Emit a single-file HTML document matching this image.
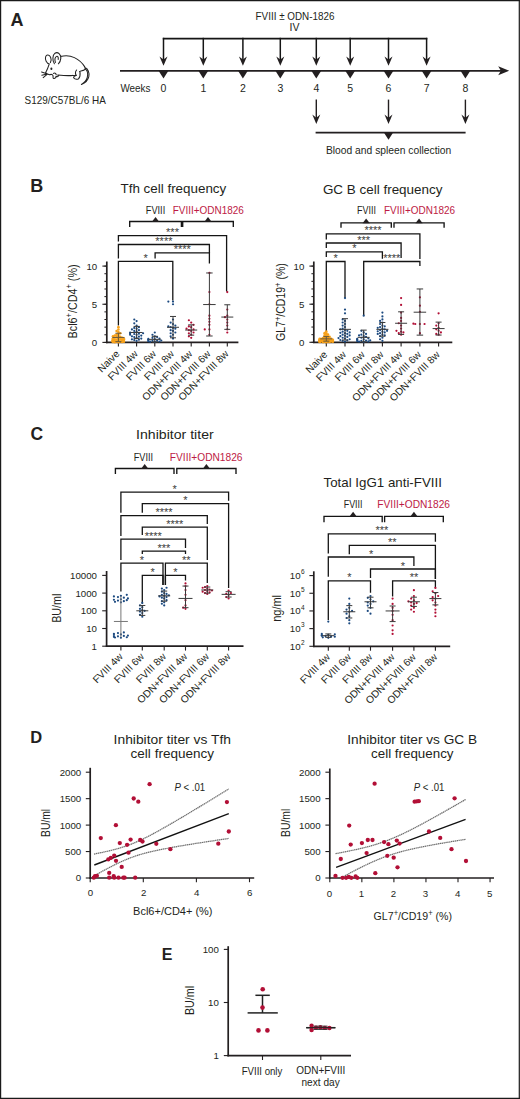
<!DOCTYPE html>
<html><head><meta charset="utf-8"><title>Figure</title>
<style>
html,body{margin:0;padding:0;background:#fff;}
body{width:520px;height:1099px;overflow:hidden;}
svg{display:block;font-family:"Liberation Sans", sans-serif;}
</style></head><body>
<svg width="520" height="1099" viewBox="0 0 520 1099">
<rect x="0" y="0" width="520" height="1099" fill="#fff"/>
<text x="10.5" y="25.7" font-size="18" text-anchor="start" fill="#231f20" font-weight="bold">A</text>
<path d="M49.4,64.0 C46.6,63.4 44.8,59.6 45.6,56.8 C46.4,54.2 49.4,54.6 50.6,57.2 C51.4,59.0 51.2,61.2 50.4,62.6 M54.4,63.8 C52.2,60.6 52.4,55.2 55.0,53.2 C57.8,51.4 61.2,54.4 60.8,58.4 C60.6,60.6 59.6,62.6 58.4,63.8 M55.4,62.4 C54.6,59.8 55.2,57.2 56.6,56.4 C57.8,55.8 58.6,57.6 58.2,59.4 M49.2,64.2 C48.4,66.8 47.0,70.2 45.6,72.8 C46.8,73.8 48.2,74.4 49.6,74.8 M60.6,56.4 C64.6,55.4 70.4,55.6 74.4,57.6 C78.6,59.6 82.2,62.8 84.6,66.6 M57.6,75.0 C61.8,75.4 67.6,76.0 72.6,75.4 M49.6,74.8 C51.0,74.0 52.6,74.4 53.0,75.6 C53.4,77.0 52.4,78.0 53.6,78.4 C55.0,78.8 56.2,77.6 56.0,76.2 C57.2,77.2 58.6,76.6 58.4,75.2 M53.4,73.4 C54.6,72.6 56.0,73.2 56.2,74.6 M76.6,70.0 C75.2,71.8 75.2,74.0 76.4,75.6 C75.0,75.8 73.6,76.6 73.6,77.8 C74.4,79.0 76.6,79.4 78.4,79.0 C79.8,77.4 80.4,74.6 80.0,72.0 M72.6,75.4 C73.6,75.6 74.6,75.6 75.4,75.4 M84.6,66.6 C85.4,68.0 85.4,69.4 84.2,70.0 C82.6,70.8 80.8,70.8 79.4,71.6 M84.8,67.6 C88.0,68.6 89.6,72.6 88.8,76.6 C88.0,80.2 85.2,83.0 81.4,84.4 M85.6,69.2 C87.6,71.0 88.0,74.6 87.2,77.6 C86.4,80.4 84.4,82.6 81.4,84.4 M46.0,73.4 L41.6,72.0 M46.2,74.2 L41.8,75.2 M46.8,74.6 L43.2,77.6" fill="none" stroke="#232323" stroke-width="1.05" stroke-linecap="round" stroke-linejoin="round"/>
<ellipse cx="51.4" cy="68.7" rx="1.0" ry="1.2" fill="#232323"/>
<ellipse cx="46.2" cy="73.6" rx="1.0" ry="0.8" fill="#232323"/>
<text x="24.6" y="104.2" font-size="10.2" text-anchor="start" fill="#231f20" font-weight="normal" textLength="81.2" lengthAdjust="spacingAndGlyphs">S129/C57BL/6 HA</text>
<text x="295" y="20" font-size="10.5" text-anchor="middle" fill="#231f20" font-weight="normal" textLength="78.8" lengthAdjust="spacingAndGlyphs">FVIII ± ODN-1826</text>
<text x="294.5" y="31.2" font-size="10.5" text-anchor="middle" fill="#231f20" font-weight="normal">IV</text>
<line x1="162.8" y1="38.6" x2="427.3" y2="38.6" stroke="#151515" stroke-width="1.7"/>
<line x1="163.5" y1="37.8" x2="163.5" y2="60" stroke="#151515" stroke-width="1.5"/>
<polygon points="159.5,56.4 163.5,59.6 167.5,56.4 163.5,65.8" fill="#231f20"/>
<line x1="203.3" y1="37.8" x2="203.3" y2="60" stroke="#151515" stroke-width="1.5"/>
<polygon points="199.3,56.4 203.3,59.6 207.3,56.4 203.3,65.8" fill="#231f20"/>
<line x1="242.9" y1="37.8" x2="242.9" y2="60" stroke="#151515" stroke-width="1.5"/>
<polygon points="238.9,56.4 242.9,59.6 246.9,56.4 242.9,65.8" fill="#231f20"/>
<line x1="280.3" y1="37.8" x2="280.3" y2="60" stroke="#151515" stroke-width="1.5"/>
<polygon points="276.3,56.4 280.3,59.6 284.3,56.4 280.3,65.8" fill="#231f20"/>
<line x1="316.3" y1="37.8" x2="316.3" y2="60" stroke="#151515" stroke-width="1.5"/>
<polygon points="312.3,56.4 316.3,59.6 320.3,56.4 316.3,65.8" fill="#231f20"/>
<line x1="350.2" y1="37.8" x2="350.2" y2="60" stroke="#151515" stroke-width="1.5"/>
<polygon points="346.2,56.4 350.2,59.6 354.2,56.4 350.2,65.8" fill="#231f20"/>
<line x1="388.5" y1="37.8" x2="388.5" y2="60" stroke="#151515" stroke-width="1.5"/>
<polygon points="384.5,56.4 388.5,59.6 392.5,56.4 388.5,65.8" fill="#231f20"/>
<line x1="426.6" y1="37.8" x2="426.6" y2="60" stroke="#151515" stroke-width="1.5"/>
<polygon points="422.6,56.4 426.6,59.6 430.6,56.4 426.6,65.8" fill="#231f20"/>
<line x1="120" y1="70.8" x2="503" y2="70.8" stroke="#231f20" stroke-width="1.8"/>
<polygon points="498.2,66.3 500.9,70.8 498.2,75.3 509.2,70.8" fill="#231f20"/>
<polygon points="158.6,70.8 168.4,70.8 163.5,78.5" fill="#231f20"/>
<polygon points="198.4,70.8 208.2,70.8 203.3,78.5" fill="#231f20"/>
<polygon points="238,70.8 247.8,70.8 242.9,78.5" fill="#231f20"/>
<polygon points="275.4,70.8 285.2,70.8 280.3,78.5" fill="#231f20"/>
<polygon points="311.4,70.8 321.2,70.8 316.3,78.5" fill="#231f20"/>
<polygon points="345.3,70.8 355.1,70.8 350.2,78.5" fill="#231f20"/>
<polygon points="383.6,70.8 393.4,70.8 388.5,78.5" fill="#231f20"/>
<polygon points="421.7,70.8 431.5,70.8 426.6,78.5" fill="#231f20"/>
<polygon points="460.5,70.8 470.3,70.8 465.4,78.5" fill="#231f20"/>
<text x="120.4" y="92" font-size="10.5" text-anchor="start" fill="#231f20" font-weight="normal" textLength="30" lengthAdjust="spacingAndGlyphs">Weeks</text>
<text x="163.5" y="92" font-size="10.5" text-anchor="middle" fill="#231f20" font-weight="normal">0</text>
<text x="203.3" y="92" font-size="10.5" text-anchor="middle" fill="#231f20" font-weight="normal">1</text>
<text x="242.9" y="92" font-size="10.5" text-anchor="middle" fill="#231f20" font-weight="normal">2</text>
<text x="280.3" y="92" font-size="10.5" text-anchor="middle" fill="#231f20" font-weight="normal">3</text>
<text x="316.3" y="92" font-size="10.5" text-anchor="middle" fill="#231f20" font-weight="normal">4</text>
<text x="350.2" y="92" font-size="10.5" text-anchor="middle" fill="#231f20" font-weight="normal">5</text>
<text x="388.5" y="92" font-size="10.5" text-anchor="middle" fill="#231f20" font-weight="normal">6</text>
<text x="426.6" y="92" font-size="10.5" text-anchor="middle" fill="#231f20" font-weight="normal">7</text>
<text x="465.4" y="92" font-size="10.5" text-anchor="middle" fill="#231f20" font-weight="normal">8</text>
<line x1="316.3" y1="99.6" x2="316.3" y2="118" stroke="#231f20" stroke-width="1.4"/>
<polygon points="312.3,114.6 316.3,117.8 320.3,114.6 316.3,124" fill="#231f20"/>
<line x1="388.5" y1="99.6" x2="388.5" y2="118" stroke="#231f20" stroke-width="1.4"/>
<polygon points="384.5,114.6 388.5,117.8 392.5,114.6 388.5,124" fill="#231f20"/>
<line x1="465.4" y1="99.6" x2="465.4" y2="118" stroke="#231f20" stroke-width="1.4"/>
<polygon points="461.4,114.6 465.4,117.8 469.4,114.6 465.4,124" fill="#231f20"/>
<line x1="315.6" y1="132.6" x2="465.6" y2="132.6" stroke="#231f20" stroke-width="1.6"/>
<polygon points="384,132.7 393,132.7 388.5,139.7" fill="#231f20"/>
<text x="388.6" y="154" font-size="10.5" text-anchor="middle" fill="#231f20" font-weight="normal" textLength="125.3" lengthAdjust="spacingAndGlyphs">Blood and spleen collection</text>
<text x="30.2" y="192.2" font-size="18" text-anchor="start" fill="#231f20" font-weight="bold">B</text>
<text x="173.4" y="192.5" font-size="12.9" text-anchor="middle" fill="#231f20" font-weight="normal" textLength="105.8" lengthAdjust="spacingAndGlyphs">Tfh cell frequency</text>
<text x="145.8" y="214.3" font-size="10.3" text-anchor="start" fill="#231f20" font-weight="normal" textLength="19.4" lengthAdjust="spacingAndGlyphs">FVIII</text>
<text x="172.7" y="214.3" font-size="10.3" text-anchor="start" fill="#bd1a45" font-weight="normal" textLength="71.1" lengthAdjust="spacingAndGlyphs">FVIII+ODN1826</text>
<polyline points="129.7,227 129.7,221.5 181.4,221.5 181.4,227" stroke="#141414" stroke-width="1.35" fill="none"/>
<polyline points="182.7,227 182.7,221.5 233.3,221.5 233.3,227" stroke="#141414" stroke-width="1.35" fill="none"/>
<polygon points="151.95,221.8 159.15,221.8 155.55,217" fill="#231f20"/>
<polygon points="204.4,221.8 211.6,221.8 208,217" fill="#231f20"/>
<polyline points="118.4,241.4 118.4,235.6 226.6,235.6 226.6,291.5" stroke="#141414" stroke-width="1.3" fill="none"/>
<text x="172.5" y="236.16" font-size="11" text-anchor="middle" fill="#3a3a3a" font-weight="normal">***</text>
<polyline points="118.4,258.4 118.4,244.5 209.4,244.5 209.4,252.9" stroke="#141414" stroke-width="1.3" fill="none"/>
<text x="163.9" y="245.06" font-size="11" text-anchor="middle" fill="#3a3a3a" font-weight="normal">****</text>
<polyline points="155.1,258.6 155.1,252.9 209.4,252.9 209.4,263.5" stroke="#141414" stroke-width="1.3" fill="none"/>
<text x="182.25" y="253.46" font-size="11" text-anchor="middle" fill="#3a3a3a" font-weight="normal">****</text>
<polyline points="118.4,325.6 118.4,261.3 172.8,261.3 172.8,300.4" stroke="#141414" stroke-width="1.3" fill="none"/>
<text x="145.6" y="261.86" font-size="11" text-anchor="middle" fill="#3a3a3a" font-weight="normal">*</text>
<line x1="106.8" y1="261.5" x2="106.8" y2="343.2" stroke="#231f20" stroke-width="1.7"/>
<line x1="106" y1="342.4" x2="238.4" y2="342.4" stroke="#231f20" stroke-width="1.7"/>
<line x1="104.4" y1="342.4" x2="106.8" y2="342.4" stroke="#231f20" stroke-width="1"/>
<line x1="104.4" y1="334.77" x2="106.8" y2="334.77" stroke="#231f20" stroke-width="1"/>
<line x1="104.4" y1="327.14" x2="106.8" y2="327.14" stroke="#231f20" stroke-width="1"/>
<line x1="104.4" y1="319.51" x2="106.8" y2="319.51" stroke="#231f20" stroke-width="1"/>
<line x1="104.4" y1="311.88" x2="106.8" y2="311.88" stroke="#231f20" stroke-width="1"/>
<line x1="104.4" y1="304.25" x2="106.8" y2="304.25" stroke="#231f20" stroke-width="1"/>
<line x1="104.4" y1="296.62" x2="106.8" y2="296.62" stroke="#231f20" stroke-width="1"/>
<line x1="104.4" y1="288.99" x2="106.8" y2="288.99" stroke="#231f20" stroke-width="1"/>
<line x1="104.4" y1="281.36" x2="106.8" y2="281.36" stroke="#231f20" stroke-width="1"/>
<line x1="104.4" y1="273.73" x2="106.8" y2="273.73" stroke="#231f20" stroke-width="1"/>
<line x1="104.4" y1="266.1" x2="106.8" y2="266.1" stroke="#231f20" stroke-width="1"/>
<line x1="102.4" y1="342.4" x2="106.8" y2="342.4" stroke="#231f20" stroke-width="1.1"/>
<text x="97.2" y="345.8" font-size="9.7" text-anchor="end" fill="#231f20" font-weight="normal">0</text>
<line x1="102.4" y1="304.25" x2="106.8" y2="304.25" stroke="#231f20" stroke-width="1.1"/>
<text x="97.2" y="307.65" font-size="9.7" text-anchor="end" fill="#231f20" font-weight="normal">5</text>
<line x1="102.4" y1="266.1" x2="106.8" y2="266.1" stroke="#231f20" stroke-width="1.1"/>
<text x="97.2" y="269.5" font-size="9.7" text-anchor="end" fill="#231f20" font-weight="normal">10</text>
<line x1="118.4" y1="342.4" x2="118.4" y2="346.6" stroke="#231f20" stroke-width="1.1"/>
<line x1="136.6" y1="342.4" x2="136.6" y2="346.6" stroke="#231f20" stroke-width="1.1"/>
<line x1="154.8" y1="342.4" x2="154.8" y2="346.6" stroke="#231f20" stroke-width="1.1"/>
<line x1="173" y1="342.4" x2="173" y2="346.6" stroke="#231f20" stroke-width="1.1"/>
<line x1="191.2" y1="342.4" x2="191.2" y2="346.6" stroke="#231f20" stroke-width="1.1"/>
<line x1="209.4" y1="342.4" x2="209.4" y2="346.6" stroke="#231f20" stroke-width="1.1"/>
<line x1="227.3" y1="342.4" x2="227.3" y2="346.6" stroke="#231f20" stroke-width="1.1"/>
<text transform="translate(76.9,301.4) rotate(-90)" font-size="12" text-anchor="middle" fill="#231f20" textLength="74" lengthAdjust="spacingAndGlyphs">Bcl6<tspan dy="-4.6" font-size="8.5">+</tspan><tspan dy="4.6">/CD4</tspan><tspan dy="-4.6" font-size="8.5">+</tspan><tspan dy="4.6"> (%)</tspan></text>
<text transform="translate(120.2,354.6) rotate(-45)" font-size="10.2" text-anchor="end" fill="#231f20">Naive</text>
<text transform="translate(138.4,354.6) rotate(-45)" font-size="10.2" text-anchor="end" fill="#231f20">FVIII 4w</text>
<text transform="translate(156.6,354.6) rotate(-45)" font-size="10.2" text-anchor="end" fill="#231f20">FVIII 6w</text>
<text transform="translate(174.8,354.6) rotate(-45)" font-size="10.2" text-anchor="end" fill="#231f20">FVIII 8w</text>
<text transform="translate(193,354.6) rotate(-45)" font-size="10.2" text-anchor="end" fill="#231f20">ODN+FVIII 4w</text>
<text transform="translate(211.2,354.6) rotate(-45)" font-size="10.2" text-anchor="end" fill="#231f20">ODN+FVIII 6w</text>
<text transform="translate(229.1,354.6) rotate(-45)" font-size="10.2" text-anchor="end" fill="#231f20">ODN+FVIII 8w</text>
<circle cx="118.4" cy="342.25" r="1.3" fill="#f7a11a"/>
<circle cx="114.79" cy="342.17" r="1.3" fill="#f7a11a"/>
<circle cx="122.01" cy="342.02" r="1.3" fill="#f7a11a"/>
<circle cx="112.9" cy="341.94" r="1.3" fill="#f7a11a"/>
<circle cx="123.9" cy="341.79" r="1.3" fill="#f7a11a"/>
<circle cx="116.59" cy="341.64" r="1.3" fill="#f7a11a"/>
<circle cx="112.9" cy="341.64" r="1.3" fill="#f7a11a"/>
<circle cx="120.21" cy="341.48" r="1.3" fill="#f7a11a"/>
<circle cx="112.9" cy="341.33" r="1.3" fill="#f7a11a"/>
<circle cx="112.9" cy="341.26" r="1.3" fill="#f7a11a"/>
<circle cx="123.9" cy="341.03" r="1.3" fill="#f7a11a"/>
<circle cx="112.9" cy="340.87" r="1.3" fill="#f7a11a"/>
<circle cx="112.9" cy="340.72" r="1.3" fill="#f7a11a"/>
<circle cx="112.9" cy="340.49" r="1.3" fill="#f7a11a"/>
<circle cx="118.4" cy="340.26" r="1.3" fill="#f7a11a"/>
<circle cx="114.79" cy="340.11" r="1.3" fill="#f7a11a"/>
<circle cx="122.01" cy="340.11" r="1.3" fill="#f7a11a"/>
<circle cx="112.9" cy="339.73" r="1.3" fill="#f7a11a"/>
<circle cx="116.59" cy="339.5" r="1.3" fill="#f7a11a"/>
<circle cx="120.21" cy="339.35" r="1.3" fill="#f7a11a"/>
<circle cx="123.9" cy="339.35" r="1.3" fill="#f7a11a"/>
<circle cx="112.9" cy="338.97" r="1.3" fill="#f7a11a"/>
<circle cx="123.9" cy="338.58" r="1.3" fill="#f7a11a"/>
<circle cx="112.9" cy="338.58" r="1.3" fill="#f7a11a"/>
<circle cx="118.4" cy="338.2" r="1.3" fill="#f7a11a"/>
<circle cx="114.79" cy="337.82" r="1.3" fill="#f7a11a"/>
<circle cx="122.01" cy="337.82" r="1.3" fill="#f7a11a"/>
<circle cx="116.59" cy="337.06" r="1.3" fill="#f7a11a"/>
<circle cx="120.21" cy="336.68" r="1.3" fill="#f7a11a"/>
<circle cx="112.99" cy="336.3" r="1.3" fill="#f7a11a"/>
<circle cx="118.4" cy="335.91" r="1.3" fill="#f7a11a"/>
<circle cx="114.79" cy="335.53" r="1.3" fill="#f7a11a"/>
<circle cx="116.59" cy="334.77" r="1.3" fill="#f7a11a"/>
<circle cx="118.4" cy="334.01" r="1.3" fill="#f7a11a"/>
<circle cx="120.21" cy="333.24" r="1.3" fill="#f7a11a"/>
<circle cx="118.4" cy="332.1" r="1.3" fill="#f7a11a"/>
<circle cx="116.59" cy="330.95" r="1.3" fill="#f7a11a"/>
<circle cx="118.4" cy="329.43" r="1.3" fill="#f7a11a"/>
<circle cx="118.4" cy="327.14" r="1.3" fill="#f7a11a"/>
<line x1="118.4" y1="333.24" x2="118.4" y2="341.64" stroke="#6a5a3a" stroke-width="1"/>
<line x1="115.4" y1="333.24" x2="121.4" y2="333.24" stroke="#6a5a3a" stroke-width="1"/>
<line x1="115.4" y1="341.64" x2="121.4" y2="341.64" stroke="#6a5a3a" stroke-width="1"/>
<line x1="112.4" y1="337.44" x2="124.4" y2="337.44" stroke="#6a5a3a" stroke-width="1"/>
<circle cx="136.6" cy="340.87" r="1.1" fill="#1c4a80"/>
<circle cx="134.27" cy="340.11" r="1.1" fill="#1c4a80"/>
<circle cx="138.93" cy="339.73" r="1.1" fill="#1c4a80"/>
<circle cx="131.94" cy="339.35" r="1.1" fill="#1c4a80"/>
<circle cx="141.25" cy="338.58" r="1.1" fill="#1c4a80"/>
<circle cx="136.6" cy="337.82" r="1.1" fill="#1c4a80"/>
<circle cx="134.27" cy="337.06" r="1.1" fill="#1c4a80"/>
<circle cx="138.93" cy="336.68" r="1.1" fill="#1c4a80"/>
<circle cx="131.94" cy="336.3" r="1.1" fill="#1c4a80"/>
<circle cx="141.25" cy="335.53" r="1.1" fill="#1c4a80"/>
<circle cx="136.6" cy="334.77" r="1.1" fill="#1c4a80"/>
<circle cx="130.1" cy="334.77" r="1.1" fill="#1c4a80"/>
<circle cx="134.27" cy="334.01" r="1.1" fill="#1c4a80"/>
<circle cx="138.93" cy="333.63" r="1.1" fill="#1c4a80"/>
<circle cx="143.1" cy="333.24" r="1.1" fill="#1c4a80"/>
<circle cx="130.1" cy="333.24" r="1.1" fill="#1c4a80"/>
<circle cx="130.1" cy="332.48" r="1.1" fill="#1c4a80"/>
<circle cx="136.6" cy="331.72" r="1.1" fill="#1c4a80"/>
<circle cx="134.27" cy="330.95" r="1.1" fill="#1c4a80"/>
<circle cx="138.93" cy="330.19" r="1.1" fill="#1c4a80"/>
<circle cx="131.94" cy="329.43" r="1.1" fill="#1c4a80"/>
<circle cx="136.6" cy="328.67" r="1.1" fill="#1c4a80"/>
<circle cx="134.27" cy="327.9" r="1.1" fill="#1c4a80"/>
<circle cx="138.93" cy="327.14" r="1.1" fill="#1c4a80"/>
<circle cx="136.6" cy="325.61" r="1.1" fill="#1c4a80"/>
<circle cx="134.27" cy="323.32" r="1.1" fill="#1c4a80"/>
<circle cx="136.6" cy="321.04" r="1.1" fill="#1c4a80"/>
<circle cx="134.27" cy="319.51" r="1.1" fill="#1c4a80"/>
<line x1="136.6" y1="326.38" x2="136.6" y2="338.58" stroke="#3a3a3a" stroke-width="1"/>
<line x1="133.6" y1="326.38" x2="139.6" y2="326.38" stroke="#3a3a3a" stroke-width="1"/>
<line x1="133.6" y1="338.58" x2="139.6" y2="338.58" stroke="#3a3a3a" stroke-width="1"/>
<line x1="130.6" y1="332.48" x2="142.6" y2="332.48" stroke="#3a3a3a" stroke-width="1"/>
<circle cx="154.8" cy="342.02" r="1.1" fill="#1c4a80"/>
<circle cx="150.15" cy="341.64" r="1.1" fill="#1c4a80"/>
<circle cx="159.46" cy="341.48" r="1.1" fill="#1c4a80"/>
<circle cx="148.3" cy="341.26" r="1.1" fill="#1c4a80"/>
<circle cx="152.47" cy="340.87" r="1.1" fill="#1c4a80"/>
<circle cx="157.13" cy="340.72" r="1.1" fill="#1c4a80"/>
<circle cx="161.3" cy="340.49" r="1.1" fill="#1c4a80"/>
<circle cx="148.3" cy="340.11" r="1.1" fill="#1c4a80"/>
<circle cx="148.3" cy="339.73" r="1.1" fill="#1c4a80"/>
<circle cx="154.8" cy="339.35" r="1.1" fill="#1c4a80"/>
<circle cx="148.3" cy="338.97" r="1.1" fill="#1c4a80"/>
<circle cx="159.46" cy="338.58" r="1.1" fill="#1c4a80"/>
<circle cx="152.47" cy="337.82" r="1.1" fill="#1c4a80"/>
<circle cx="157.13" cy="337.06" r="1.1" fill="#1c4a80"/>
<circle cx="154.8" cy="336.3" r="1.1" fill="#1c4a80"/>
<circle cx="152.47" cy="334.77" r="1.1" fill="#1c4a80"/>
<circle cx="154.8" cy="332.48" r="1.1" fill="#1c4a80"/>
<line x1="154.8" y1="336.3" x2="154.8" y2="342.02" stroke="#3a3a3a" stroke-width="1"/>
<line x1="151.8" y1="336.3" x2="157.8" y2="336.3" stroke="#3a3a3a" stroke-width="1"/>
<line x1="151.8" y1="342.02" x2="157.8" y2="342.02" stroke="#3a3a3a" stroke-width="1"/>
<line x1="148.8" y1="339.35" x2="160.8" y2="339.35" stroke="#3a3a3a" stroke-width="1"/>
<circle cx="173" cy="338.58" r="1.1" fill="#1c4a80"/>
<circle cx="170.67" cy="336.3" r="1.1" fill="#1c4a80"/>
<circle cx="173" cy="334.77" r="1.1" fill="#1c4a80"/>
<circle cx="170.67" cy="333.24" r="1.1" fill="#1c4a80"/>
<circle cx="175.33" cy="332.48" r="1.1" fill="#1c4a80"/>
<circle cx="173" cy="330.95" r="1.1" fill="#1c4a80"/>
<circle cx="170.67" cy="330.19" r="1.1" fill="#1c4a80"/>
<circle cx="175.33" cy="328.67" r="1.1" fill="#1c4a80"/>
<circle cx="173" cy="327.9" r="1.1" fill="#1c4a80"/>
<circle cx="170.67" cy="327.14" r="1.1" fill="#1c4a80"/>
<circle cx="168.34" cy="326.38" r="1.1" fill="#1c4a80"/>
<circle cx="175.33" cy="325.61" r="1.1" fill="#1c4a80"/>
<circle cx="173" cy="324.09" r="1.1" fill="#1c4a80"/>
<circle cx="170.67" cy="322.56" r="1.1" fill="#1c4a80"/>
<circle cx="173" cy="319.51" r="1.1" fill="#1c4a80"/>
<circle cx="173" cy="304.25" r="1.1" fill="#1c4a80"/>
<circle cx="173" cy="301.58" r="1.1" fill="#1c4a80"/>
<circle cx="168.34" cy="301.58" r="1.1" fill="#1c4a80"/>
<line x1="173" y1="316.46" x2="173" y2="337.82" stroke="#3a3a3a" stroke-width="1"/>
<line x1="170" y1="316.46" x2="176" y2="316.46" stroke="#3a3a3a" stroke-width="1"/>
<line x1="170" y1="337.82" x2="176" y2="337.82" stroke="#3a3a3a" stroke-width="1"/>
<line x1="167" y1="327.29" x2="179" y2="327.29" stroke="#3a3a3a" stroke-width="1"/>
<circle cx="191.2" cy="337.82" r="1.1" fill="#b20f36"/>
<circle cx="188.87" cy="336.3" r="1.1" fill="#b20f36"/>
<circle cx="191.2" cy="334.77" r="1.1" fill="#b20f36"/>
<circle cx="188.87" cy="333.24" r="1.1" fill="#b20f36"/>
<circle cx="193.53" cy="332.48" r="1.1" fill="#b20f36"/>
<circle cx="191.2" cy="330.95" r="1.1" fill="#b20f36"/>
<circle cx="188.87" cy="330.19" r="1.1" fill="#b20f36"/>
<circle cx="193.53" cy="329.43" r="1.1" fill="#b20f36"/>
<circle cx="186.54" cy="328.67" r="1.1" fill="#b20f36"/>
<circle cx="191.2" cy="327.14" r="1.1" fill="#b20f36"/>
<circle cx="188.87" cy="326.38" r="1.1" fill="#b20f36"/>
<circle cx="193.53" cy="324.85" r="1.1" fill="#b20f36"/>
<circle cx="191.2" cy="322.56" r="1.1" fill="#b20f36"/>
<circle cx="188.87" cy="320.27" r="1.1" fill="#b20f36"/>
<line x1="191.2" y1="324.85" x2="191.2" y2="335.15" stroke="#3a3a3a" stroke-width="1"/>
<line x1="188.2" y1="324.85" x2="194.2" y2="324.85" stroke="#3a3a3a" stroke-width="1"/>
<line x1="188.2" y1="335.15" x2="194.2" y2="335.15" stroke="#3a3a3a" stroke-width="1"/>
<line x1="185.2" y1="330.04" x2="197.2" y2="330.04" stroke="#3a3a3a" stroke-width="1"/>
<circle cx="209.4" cy="334.77" r="1.1" fill="#b20f36"/>
<circle cx="209.4" cy="329.43" r="1.1" fill="#b20f36"/>
<circle cx="204.75" cy="329.43" r="1.1" fill="#b20f36"/>
<circle cx="209.4" cy="324.85" r="1.1" fill="#b20f36"/>
<circle cx="209.4" cy="321.8" r="1.1" fill="#b20f36"/>
<circle cx="209.4" cy="318.75" r="1.1" fill="#b20f36"/>
<circle cx="209.4" cy="315.69" r="1.1" fill="#b20f36"/>
<circle cx="209.4" cy="304.25" r="1.1" fill="#b20f36"/>
<circle cx="209.4" cy="292.04" r="1.1" fill="#b20f36"/>
<circle cx="209.4" cy="272.97" r="1.1" fill="#b20f36"/>
<line x1="209.4" y1="272.97" x2="209.4" y2="335.99" stroke="#3a3a3a" stroke-width="1"/>
<line x1="206.15" y1="272.97" x2="212.65" y2="272.97" stroke="#3a3a3a" stroke-width="1"/>
<line x1="206.15" y1="335.99" x2="212.65" y2="335.99" stroke="#3a3a3a" stroke-width="1"/>
<line x1="203.15" y1="304.56" x2="215.65" y2="304.56" stroke="#3a3a3a" stroke-width="1"/>
<circle cx="227.3" cy="332.48" r="1.1" fill="#b20f36"/>
<circle cx="227.3" cy="329.43" r="1.1" fill="#b20f36"/>
<circle cx="227.3" cy="325.61" r="1.1" fill="#b20f36"/>
<circle cx="227.3" cy="322.56" r="1.1" fill="#b20f36"/>
<circle cx="227.3" cy="319.51" r="1.1" fill="#b20f36"/>
<circle cx="224.97" cy="317.22" r="1.1" fill="#b20f36"/>
<circle cx="227.3" cy="315.69" r="1.1" fill="#b20f36"/>
<circle cx="227.3" cy="309.59" r="1.1" fill="#b20f36"/>
<circle cx="227.3" cy="292.04" r="1.1" fill="#b20f36"/>
<line x1="227.3" y1="304.78" x2="227.3" y2="329.35" stroke="#3a3a3a" stroke-width="1"/>
<line x1="224.3" y1="304.78" x2="230.3" y2="304.78" stroke="#3a3a3a" stroke-width="1"/>
<line x1="224.3" y1="329.35" x2="230.3" y2="329.35" stroke="#3a3a3a" stroke-width="1"/>
<line x1="221.3" y1="317.07" x2="233.3" y2="317.07" stroke="#3a3a3a" stroke-width="1"/>
<text x="382.7" y="193.8" font-size="12.9" text-anchor="middle" fill="#231f20" font-weight="normal" textLength="119.6" lengthAdjust="spacingAndGlyphs">GC B cell frequency</text>
<text x="357.1" y="214" font-size="10.3" text-anchor="start" fill="#231f20" font-weight="normal" textLength="18.9" lengthAdjust="spacingAndGlyphs">FVIII</text>
<text x="384" y="214" font-size="10.3" text-anchor="start" fill="#bd1a45" font-weight="normal" textLength="71.1" lengthAdjust="spacingAndGlyphs">FVIII+ODN1826</text>
<polyline points="341,227.7 341,222.9 391.3,222.9 391.3,227.7" stroke="#141414" stroke-width="1.35" fill="none"/>
<polyline points="394,227.7 394,222.9 444.1,222.9 444.1,227.7" stroke="#141414" stroke-width="1.35" fill="none"/>
<polygon points="362.55,223.2 369.75,223.2 366.15,218.4" fill="#231f20"/>
<polygon points="415.45,223.2 422.65,223.2 419.05,218.4" fill="#231f20"/>
<polyline points="326.3,239.6 326.3,233.8 419.9,233.8 419.9,259" stroke="#141414" stroke-width="1.3" fill="none"/>
<text x="373.1" y="234.36" font-size="11" text-anchor="middle" fill="#3a3a3a" font-weight="normal">****</text>
<polyline points="326.3,248 326.3,243 401.1,243 401.1,258" stroke="#141414" stroke-width="1.3" fill="none"/>
<text x="363.7" y="243.56" font-size="11" text-anchor="middle" fill="#3a3a3a" font-weight="normal">***</text>
<polyline points="326.3,257 326.3,251.8 382.4,251.8 382.4,258.8" stroke="#141414" stroke-width="1.3" fill="none"/>
<text x="354.35" y="252.36" font-size="11" text-anchor="middle" fill="#3a3a3a" font-weight="normal">*</text>
<polyline points="326.3,331 326.3,261.5 345,261.5 345,298" stroke="#141414" stroke-width="1.3" fill="none"/>
<text x="335.65" y="262.06" font-size="11" text-anchor="middle" fill="#3a3a3a" font-weight="normal">*</text>
<polyline points="363.7,315.5 363.7,261.5 419.9,261.5 419.9,266" stroke="#141414" stroke-width="1.3" fill="none"/>
<text x="391.8" y="262.06" font-size="11" text-anchor="middle" fill="#3a3a3a" font-weight="normal">****</text>
<line x1="313.8" y1="261.5" x2="313.8" y2="343.1" stroke="#231f20" stroke-width="1.7"/>
<line x1="313" y1="342.3" x2="452.3" y2="342.3" stroke="#231f20" stroke-width="1.7"/>
<line x1="311.4" y1="342.3" x2="313.8" y2="342.3" stroke="#231f20" stroke-width="1"/>
<line x1="311.4" y1="334.68" x2="313.8" y2="334.68" stroke="#231f20" stroke-width="1"/>
<line x1="311.4" y1="327.06" x2="313.8" y2="327.06" stroke="#231f20" stroke-width="1"/>
<line x1="311.4" y1="319.44" x2="313.8" y2="319.44" stroke="#231f20" stroke-width="1"/>
<line x1="311.4" y1="311.82" x2="313.8" y2="311.82" stroke="#231f20" stroke-width="1"/>
<line x1="311.4" y1="304.2" x2="313.8" y2="304.2" stroke="#231f20" stroke-width="1"/>
<line x1="311.4" y1="296.58" x2="313.8" y2="296.58" stroke="#231f20" stroke-width="1"/>
<line x1="311.4" y1="288.96" x2="313.8" y2="288.96" stroke="#231f20" stroke-width="1"/>
<line x1="311.4" y1="281.34" x2="313.8" y2="281.34" stroke="#231f20" stroke-width="1"/>
<line x1="311.4" y1="273.72" x2="313.8" y2="273.72" stroke="#231f20" stroke-width="1"/>
<line x1="311.4" y1="266.1" x2="313.8" y2="266.1" stroke="#231f20" stroke-width="1"/>
<line x1="309.4" y1="342.3" x2="313.8" y2="342.3" stroke="#231f20" stroke-width="1.1"/>
<text x="304.4" y="345.7" font-size="9.7" text-anchor="end" fill="#231f20" font-weight="normal">0</text>
<line x1="309.4" y1="304.2" x2="313.8" y2="304.2" stroke="#231f20" stroke-width="1.1"/>
<text x="304.4" y="307.6" font-size="9.7" text-anchor="end" fill="#231f20" font-weight="normal">5</text>
<line x1="309.4" y1="266.1" x2="313.8" y2="266.1" stroke="#231f20" stroke-width="1.1"/>
<text x="304.4" y="269.5" font-size="9.7" text-anchor="end" fill="#231f20" font-weight="normal">10</text>
<line x1="326.3" y1="342.3" x2="326.3" y2="346.5" stroke="#231f20" stroke-width="1.1"/>
<line x1="345" y1="342.3" x2="345" y2="346.5" stroke="#231f20" stroke-width="1.1"/>
<line x1="363.7" y1="342.3" x2="363.7" y2="346.5" stroke="#231f20" stroke-width="1.1"/>
<line x1="382.4" y1="342.3" x2="382.4" y2="346.5" stroke="#231f20" stroke-width="1.1"/>
<line x1="401.1" y1="342.3" x2="401.1" y2="346.5" stroke="#231f20" stroke-width="1.1"/>
<line x1="419.9" y1="342.3" x2="419.9" y2="346.5" stroke="#231f20" stroke-width="1.1"/>
<line x1="438.6" y1="342.3" x2="438.6" y2="346.5" stroke="#231f20" stroke-width="1.1"/>
<text transform="translate(285.4,302.1) rotate(-90)" font-size="12" text-anchor="middle" fill="#231f20" textLength="77.8" lengthAdjust="spacingAndGlyphs">GL7<tspan dy="-4.6" font-size="8.5">+</tspan><tspan dy="4.6">/CD19</tspan><tspan dy="-4.6" font-size="8.5">+</tspan><tspan dy="4.6"> (%)</tspan></text>
<text transform="translate(328.1,355.3) rotate(-45)" font-size="10.2" text-anchor="end" fill="#231f20">Naive</text>
<text transform="translate(346.8,355.3) rotate(-45)" font-size="10.2" text-anchor="end" fill="#231f20">FVIII 4w</text>
<text transform="translate(365.5,355.3) rotate(-45)" font-size="10.2" text-anchor="end" fill="#231f20">FVIII 6w</text>
<text transform="translate(384.2,355.3) rotate(-45)" font-size="10.2" text-anchor="end" fill="#231f20">FVIII 8w</text>
<text transform="translate(402.9,355.3) rotate(-45)" font-size="10.2" text-anchor="end" fill="#231f20">ODN+FVIII 4w</text>
<text transform="translate(421.7,355.3) rotate(-45)" font-size="10.2" text-anchor="end" fill="#231f20">ODN+FVIII 6w</text>
<text transform="translate(440.4,355.3) rotate(-45)" font-size="10.2" text-anchor="end" fill="#231f20">ODN+FVIII 8w</text>
<circle cx="326.3" cy="342.15" r="1.4" fill="#f7a11a"/>
<circle cx="323.07" cy="342" r="1.4" fill="#f7a11a"/>
<circle cx="329.53" cy="341.92" r="1.4" fill="#f7a11a"/>
<circle cx="319.84" cy="341.84" r="1.4" fill="#f7a11a"/>
<circle cx="332.76" cy="341.69" r="1.4" fill="#f7a11a"/>
<circle cx="319.8" cy="341.69" r="1.4" fill="#f7a11a"/>
<circle cx="324.69" cy="341.54" r="1.4" fill="#f7a11a"/>
<circle cx="319.8" cy="341.54" r="1.4" fill="#f7a11a"/>
<circle cx="327.92" cy="341.39" r="1.4" fill="#f7a11a"/>
<circle cx="319.8" cy="341.39" r="1.4" fill="#f7a11a"/>
<circle cx="321.45" cy="341.16" r="1.4" fill="#f7a11a"/>
<circle cx="331.15" cy="341.16" r="1.4" fill="#f7a11a"/>
<circle cx="332.8" cy="340.93" r="1.4" fill="#f7a11a"/>
<circle cx="319.8" cy="340.78" r="1.4" fill="#f7a11a"/>
<circle cx="319.8" cy="340.78" r="1.4" fill="#f7a11a"/>
<circle cx="319.8" cy="340.62" r="1.4" fill="#f7a11a"/>
<circle cx="326.3" cy="340.4" r="1.4" fill="#f7a11a"/>
<circle cx="319.8" cy="340.4" r="1.4" fill="#f7a11a"/>
<circle cx="323.07" cy="340.17" r="1.4" fill="#f7a11a"/>
<circle cx="329.53" cy="340.01" r="1.4" fill="#f7a11a"/>
<circle cx="332.8" cy="340.01" r="1.4" fill="#f7a11a"/>
<circle cx="319.8" cy="339.86" r="1.4" fill="#f7a11a"/>
<circle cx="324.69" cy="339.63" r="1.4" fill="#f7a11a"/>
<circle cx="319.8" cy="339.63" r="1.4" fill="#f7a11a"/>
<circle cx="327.92" cy="339.4" r="1.4" fill="#f7a11a"/>
<circle cx="321.45" cy="339.25" r="1.4" fill="#f7a11a"/>
<circle cx="331.15" cy="338.87" r="1.4" fill="#f7a11a"/>
<circle cx="319.8" cy="338.87" r="1.4" fill="#f7a11a"/>
<circle cx="326.3" cy="338.49" r="1.4" fill="#f7a11a"/>
<circle cx="323.07" cy="338.11" r="1.4" fill="#f7a11a"/>
<circle cx="327.92" cy="337.73" r="1.4" fill="#f7a11a"/>
<circle cx="324.69" cy="337.35" r="1.4" fill="#f7a11a"/>
<circle cx="329.53" cy="336.97" r="1.4" fill="#f7a11a"/>
<circle cx="326.3" cy="336.2" r="1.4" fill="#f7a11a"/>
<circle cx="324.69" cy="335.44" r="1.4" fill="#f7a11a"/>
<circle cx="327.92" cy="334.68" r="1.4" fill="#f7a11a"/>
<circle cx="326.3" cy="333.92" r="1.4" fill="#f7a11a"/>
<circle cx="324.69" cy="333.16" r="1.4" fill="#f7a11a"/>
<circle cx="326.3" cy="331.63" r="1.4" fill="#f7a11a"/>
<line x1="326.3" y1="336.59" x2="326.3" y2="341.16" stroke="#6a5a3a" stroke-width="1"/>
<line x1="323.3" y1="336.59" x2="329.3" y2="336.59" stroke="#6a5a3a" stroke-width="1"/>
<line x1="323.3" y1="341.16" x2="329.3" y2="341.16" stroke="#6a5a3a" stroke-width="1"/>
<line x1="320.3" y1="338.87" x2="332.3" y2="338.87" stroke="#6a5a3a" stroke-width="1"/>
<circle cx="345" cy="341.54" r="1.1" fill="#1c4a80"/>
<circle cx="342.67" cy="340.78" r="1.1" fill="#1c4a80"/>
<circle cx="347.33" cy="340.4" r="1.1" fill="#1c4a80"/>
<circle cx="340.35" cy="340.01" r="1.1" fill="#1c4a80"/>
<circle cx="349.65" cy="339.25" r="1.1" fill="#1c4a80"/>
<circle cx="345" cy="338.49" r="1.1" fill="#1c4a80"/>
<circle cx="338.5" cy="338.11" r="1.1" fill="#1c4a80"/>
<circle cx="342.67" cy="337.73" r="1.1" fill="#1c4a80"/>
<circle cx="347.33" cy="336.97" r="1.1" fill="#1c4a80"/>
<circle cx="340.35" cy="336.2" r="1.1" fill="#1c4a80"/>
<circle cx="345" cy="335.82" r="1.1" fill="#1c4a80"/>
<circle cx="349.65" cy="335.44" r="1.1" fill="#1c4a80"/>
<circle cx="342.67" cy="334.68" r="1.1" fill="#1c4a80"/>
<circle cx="347.33" cy="333.92" r="1.1" fill="#1c4a80"/>
<circle cx="345" cy="333.16" r="1.1" fill="#1c4a80"/>
<circle cx="340.35" cy="332.78" r="1.1" fill="#1c4a80"/>
<circle cx="349.65" cy="332.39" r="1.1" fill="#1c4a80"/>
<circle cx="342.67" cy="331.63" r="1.1" fill="#1c4a80"/>
<circle cx="347.33" cy="330.87" r="1.1" fill="#1c4a80"/>
<circle cx="345" cy="330.11" r="1.1" fill="#1c4a80"/>
<circle cx="340.35" cy="329.35" r="1.1" fill="#1c4a80"/>
<circle cx="342.67" cy="328.58" r="1.1" fill="#1c4a80"/>
<circle cx="345" cy="327.06" r="1.1" fill="#1c4a80"/>
<circle cx="342.67" cy="325.54" r="1.1" fill="#1c4a80"/>
<circle cx="345" cy="324.01" r="1.1" fill="#1c4a80"/>
<circle cx="342.67" cy="322.49" r="1.1" fill="#1c4a80"/>
<circle cx="345" cy="320.96" r="1.1" fill="#1c4a80"/>
<circle cx="342.67" cy="319.44" r="1.1" fill="#1c4a80"/>
<circle cx="345" cy="313.34" r="1.1" fill="#1c4a80"/>
<circle cx="345" cy="309.53" r="1.1" fill="#1c4a80"/>
<circle cx="345" cy="298.1" r="1.1" fill="#1c4a80"/>
<line x1="345" y1="318.68" x2="345" y2="340.01" stroke="#3a3a3a" stroke-width="1"/>
<line x1="342" y1="318.68" x2="348" y2="318.68" stroke="#3a3a3a" stroke-width="1"/>
<line x1="342" y1="340.01" x2="348" y2="340.01" stroke="#3a3a3a" stroke-width="1"/>
<line x1="339" y1="329.35" x2="351" y2="329.35" stroke="#3a3a3a" stroke-width="1"/>
<circle cx="363.7" cy="341.92" r="1.1" fill="#1c4a80"/>
<circle cx="359.05" cy="341.54" r="1.1" fill="#1c4a80"/>
<circle cx="368.35" cy="341.39" r="1.1" fill="#1c4a80"/>
<circle cx="357.2" cy="341.16" r="1.1" fill="#1c4a80"/>
<circle cx="361.37" cy="340.78" r="1.1" fill="#1c4a80"/>
<circle cx="366.03" cy="340.62" r="1.1" fill="#1c4a80"/>
<circle cx="370.2" cy="340.4" r="1.1" fill="#1c4a80"/>
<circle cx="357.2" cy="340.01" r="1.1" fill="#1c4a80"/>
<circle cx="357.2" cy="339.63" r="1.1" fill="#1c4a80"/>
<circle cx="363.7" cy="339.25" r="1.1" fill="#1c4a80"/>
<circle cx="357.2" cy="338.87" r="1.1" fill="#1c4a80"/>
<circle cx="368.35" cy="338.49" r="1.1" fill="#1c4a80"/>
<circle cx="361.37" cy="337.73" r="1.1" fill="#1c4a80"/>
<circle cx="366.03" cy="336.97" r="1.1" fill="#1c4a80"/>
<circle cx="363.7" cy="336.2" r="1.1" fill="#1c4a80"/>
<circle cx="359.05" cy="335.44" r="1.1" fill="#1c4a80"/>
<circle cx="361.37" cy="334.68" r="1.1" fill="#1c4a80"/>
<circle cx="366.03" cy="333.92" r="1.1" fill="#1c4a80"/>
<circle cx="363.7" cy="332.39" r="1.1" fill="#1c4a80"/>
<circle cx="361.37" cy="330.87" r="1.1" fill="#1c4a80"/>
<circle cx="363.7" cy="315.63" r="1.1" fill="#1c4a80"/>
<line x1="363.7" y1="330.11" x2="363.7" y2="341.92" stroke="#3a3a3a" stroke-width="1"/>
<line x1="360.7" y1="330.11" x2="366.7" y2="330.11" stroke="#3a3a3a" stroke-width="1"/>
<line x1="360.7" y1="341.92" x2="366.7" y2="341.92" stroke="#3a3a3a" stroke-width="1"/>
<line x1="357.7" y1="337.35" x2="369.7" y2="337.35" stroke="#3a3a3a" stroke-width="1"/>
<circle cx="382.4" cy="340.78" r="1.1" fill="#1c4a80"/>
<circle cx="380.07" cy="339.25" r="1.1" fill="#1c4a80"/>
<circle cx="382.4" cy="337.73" r="1.1" fill="#1c4a80"/>
<circle cx="380.07" cy="336.2" r="1.1" fill="#1c4a80"/>
<circle cx="384.73" cy="335.44" r="1.1" fill="#1c4a80"/>
<circle cx="382.4" cy="334.68" r="1.1" fill="#1c4a80"/>
<circle cx="377.75" cy="333.92" r="1.1" fill="#1c4a80"/>
<circle cx="380.07" cy="333.16" r="1.1" fill="#1c4a80"/>
<circle cx="384.73" cy="332.39" r="1.1" fill="#1c4a80"/>
<circle cx="382.4" cy="331.63" r="1.1" fill="#1c4a80"/>
<circle cx="377.75" cy="331.25" r="1.1" fill="#1c4a80"/>
<circle cx="387.05" cy="330.87" r="1.1" fill="#1c4a80"/>
<circle cx="380.07" cy="330.11" r="1.1" fill="#1c4a80"/>
<circle cx="384.73" cy="329.35" r="1.1" fill="#1c4a80"/>
<circle cx="382.4" cy="328.58" r="1.1" fill="#1c4a80"/>
<circle cx="377.75" cy="327.82" r="1.1" fill="#1c4a80"/>
<circle cx="380.07" cy="327.06" r="1.1" fill="#1c4a80"/>
<circle cx="384.73" cy="326.3" r="1.1" fill="#1c4a80"/>
<circle cx="382.4" cy="325.54" r="1.1" fill="#1c4a80"/>
<circle cx="380.07" cy="324.01" r="1.1" fill="#1c4a80"/>
<circle cx="382.4" cy="322.49" r="1.1" fill="#1c4a80"/>
<circle cx="380.07" cy="320.96" r="1.1" fill="#1c4a80"/>
<circle cx="382.4" cy="319.44" r="1.1" fill="#1c4a80"/>
<circle cx="382.4" cy="316.39" r="1.1" fill="#1c4a80"/>
<circle cx="382.4" cy="312.58" r="1.1" fill="#1c4a80"/>
<line x1="382.4" y1="322.49" x2="382.4" y2="336.2" stroke="#3a3a3a" stroke-width="1"/>
<line x1="379.4" y1="322.49" x2="385.4" y2="322.49" stroke="#3a3a3a" stroke-width="1"/>
<line x1="379.4" y1="336.2" x2="385.4" y2="336.2" stroke="#3a3a3a" stroke-width="1"/>
<line x1="376.4" y1="329.35" x2="388.4" y2="329.35" stroke="#3a3a3a" stroke-width="1"/>
<circle cx="401.1" cy="334.68" r="1.1" fill="#b20f36"/>
<circle cx="398.77" cy="333.16" r="1.1" fill="#b20f36"/>
<circle cx="403.43" cy="332.39" r="1.1" fill="#b20f36"/>
<circle cx="401.1" cy="331.63" r="1.1" fill="#b20f36"/>
<circle cx="396.45" cy="330.87" r="1.1" fill="#b20f36"/>
<circle cx="401.1" cy="328.58" r="1.1" fill="#b20f36"/>
<circle cx="401.1" cy="325.54" r="1.1" fill="#b20f36"/>
<circle cx="398.77" cy="323.25" r="1.1" fill="#b20f36"/>
<circle cx="401.1" cy="320.96" r="1.1" fill="#b20f36"/>
<circle cx="401.1" cy="317.92" r="1.1" fill="#b20f36"/>
<circle cx="401.1" cy="312.58" r="1.1" fill="#b20f36"/>
<circle cx="401.1" cy="304.96" r="1.1" fill="#b20f36"/>
<circle cx="401.1" cy="298.1" r="1.1" fill="#b20f36"/>
<line x1="401.1" y1="311.82" x2="401.1" y2="334.45" stroke="#3a3a3a" stroke-width="1"/>
<line x1="398.1" y1="311.82" x2="404.1" y2="311.82" stroke="#3a3a3a" stroke-width="1"/>
<line x1="398.1" y1="334.45" x2="404.1" y2="334.45" stroke="#3a3a3a" stroke-width="1"/>
<line x1="395.1" y1="323.25" x2="407.1" y2="323.25" stroke="#3a3a3a" stroke-width="1"/>
<circle cx="419.9" cy="333.16" r="1.1" fill="#b20f36"/>
<circle cx="419.9" cy="324.01" r="1.1" fill="#b20f36"/>
<circle cx="415.25" cy="324.01" r="1.1" fill="#b20f36"/>
<circle cx="424.55" cy="324.01" r="1.1" fill="#b20f36"/>
<circle cx="413.4" cy="323.63" r="1.1" fill="#b20f36"/>
<circle cx="419.9" cy="311.82" r="1.1" fill="#b20f36"/>
<circle cx="419.9" cy="305.72" r="1.1" fill="#b20f36"/>
<circle cx="419.9" cy="297.34" r="1.1" fill="#b20f36"/>
<line x1="419.9" y1="288.96" x2="419.9" y2="335.14" stroke="#3a3a3a" stroke-width="1"/>
<line x1="416.65" y1="288.96" x2="423.15" y2="288.96" stroke="#3a3a3a" stroke-width="1"/>
<line x1="416.65" y1="335.14" x2="423.15" y2="335.14" stroke="#3a3a3a" stroke-width="1"/>
<line x1="413.65" y1="312.2" x2="426.15" y2="312.2" stroke="#3a3a3a" stroke-width="1"/>
<circle cx="438.6" cy="334.68" r="1.1" fill="#b20f36"/>
<circle cx="436.27" cy="333.92" r="1.1" fill="#b20f36"/>
<circle cx="440.93" cy="332.39" r="1.1" fill="#b20f36"/>
<circle cx="438.6" cy="330.87" r="1.1" fill="#b20f36"/>
<circle cx="436.27" cy="329.35" r="1.1" fill="#b20f36"/>
<circle cx="438.6" cy="327.82" r="1.1" fill="#b20f36"/>
<circle cx="436.27" cy="325.54" r="1.1" fill="#b20f36"/>
<circle cx="438.6" cy="323.25" r="1.1" fill="#b20f36"/>
<circle cx="438.6" cy="313.34" r="1.1" fill="#b20f36"/>
<line x1="438.6" y1="322.11" x2="438.6" y2="335.06" stroke="#3a3a3a" stroke-width="1"/>
<line x1="435.6" y1="322.11" x2="441.6" y2="322.11" stroke="#3a3a3a" stroke-width="1"/>
<line x1="435.6" y1="335.06" x2="441.6" y2="335.06" stroke="#3a3a3a" stroke-width="1"/>
<line x1="432.6" y1="328.58" x2="444.6" y2="328.58" stroke="#3a3a3a" stroke-width="1"/>
<text x="30.6" y="439.6" font-size="17.5" text-anchor="start" fill="#231f20" font-weight="bold">C</text>
<text x="174.9" y="439.4" font-size="12.9" text-anchor="middle" fill="#231f20" font-weight="normal" textLength="77.6" lengthAdjust="spacingAndGlyphs">Inhibitor titer</text>
<text x="133.7" y="461" font-size="10.3" text-anchor="start" fill="#231f20" font-weight="normal" textLength="19.4" lengthAdjust="spacingAndGlyphs">FVIII</text>
<text x="169.8" y="461" font-size="10.3" text-anchor="start" fill="#bd1a45" font-weight="normal" textLength="72.7" lengthAdjust="spacingAndGlyphs">FVIII+ODN1826</text>
<polyline points="115.4,473.9 115.4,468.5 174,468.5 174,473.9" stroke="#141414" stroke-width="1.35" fill="none"/>
<polyline points="176.8,473.9 176.8,468.5 236,468.5 236,473.9" stroke="#141414" stroke-width="1.35" fill="none"/>
<polygon points="141.1,468.8 148.3,468.8 144.7,464" fill="#231f20"/>
<polygon points="202.8,468.8 210,468.8 206.4,464" fill="#231f20"/>
<polyline points="120.9,512.8 120.9,492.1 228.6,492.1 228.6,500.7" stroke="#141414" stroke-width="1.3" fill="none"/>
<text x="174.75" y="492.66" font-size="11" text-anchor="middle" fill="#3a3a3a" font-weight="normal">*</text>
<polyline points="142.3,512.8 142.3,503.6 228.6,503.6 228.6,588" stroke="#141414" stroke-width="1.3" fill="none"/>
<text x="185.45" y="504.16" font-size="11" text-anchor="middle" fill="#3a3a3a" font-weight="normal">*</text>
<polyline points="120.9,536 120.9,515.6 207.3,515.6 207.3,524" stroke="#141414" stroke-width="1.3" fill="none"/>
<text x="164.1" y="516.16" font-size="11" text-anchor="middle" fill="#3a3a3a" font-weight="normal">****</text>
<polyline points="142.3,535 142.3,527.2 207.3,527.2 207.3,560.1" stroke="#141414" stroke-width="1.3" fill="none"/>
<text x="174.8" y="527.76" font-size="11" text-anchor="middle" fill="#3a3a3a" font-weight="normal">****</text>
<polyline points="120.9,560.1 120.9,539.2 185.5,539.2 185.5,548.1" stroke="#141414" stroke-width="1.3" fill="none"/>
<text x="153.2" y="539.76" font-size="11" text-anchor="middle" fill="#3a3a3a" font-weight="normal">****</text>
<polyline points="142.3,554.1 142.3,551.2 185.5,551.2 185.5,554.1" stroke="#141414" stroke-width="1.3" fill="none"/>
<text x="163.9" y="551.76" font-size="11" text-anchor="middle" fill="#3a3a3a" font-weight="normal">***</text>
<polyline points="120.9,591.4 120.9,563.2 163,563.2 163,585" stroke="#141414" stroke-width="1.3" fill="none"/>
<text x="141.95" y="563.76" font-size="11" text-anchor="middle" fill="#3a3a3a" font-weight="normal">*</text>
<polyline points="165.4,585 165.4,563.2 207.3,563.2 207.3,583" stroke="#141414" stroke-width="1.3" fill="none"/>
<text x="186.35" y="563.76" font-size="11" text-anchor="middle" fill="#3a3a3a" font-weight="normal">**</text>
<polyline points="142.3,603.4 142.3,575.3 163,575.3 163,585" stroke="#141414" stroke-width="1.3" fill="none"/>
<text x="152.65" y="575.86" font-size="11" text-anchor="middle" fill="#3a3a3a" font-weight="normal">*</text>
<polyline points="165.4,585 165.4,575.3 185.5,575.3 185.5,580.6" stroke="#141414" stroke-width="1.3" fill="none"/>
<text x="175.45" y="575.86" font-size="11" text-anchor="middle" fill="#3a3a3a" font-weight="normal">*</text>
<line x1="106.6" y1="571" x2="106.6" y2="647" stroke="#231f20" stroke-width="1.7"/>
<line x1="105.8" y1="646.2" x2="243.5" y2="646.2" stroke="#231f20" stroke-width="1.7"/>
<line x1="102.2" y1="646.2" x2="106.6" y2="646.2" stroke="#231f20" stroke-width="1.1"/>
<text x="97" y="649.6" font-size="9.7" text-anchor="end" fill="#231f20" font-weight="normal">1</text>
<line x1="102.2" y1="628.5" x2="106.6" y2="628.5" stroke="#231f20" stroke-width="1.1"/>
<text x="97" y="631.9" font-size="9.7" text-anchor="end" fill="#231f20" font-weight="normal">10</text>
<line x1="102.2" y1="610.8" x2="106.6" y2="610.8" stroke="#231f20" stroke-width="1.1"/>
<text x="97" y="614.2" font-size="9.7" text-anchor="end" fill="#231f20" font-weight="normal">100</text>
<line x1="102.2" y1="593.1" x2="106.6" y2="593.1" stroke="#231f20" stroke-width="1.1"/>
<text x="97" y="596.5" font-size="9.7" text-anchor="end" fill="#231f20" font-weight="normal">1000</text>
<line x1="102.2" y1="575.4" x2="106.6" y2="575.4" stroke="#231f20" stroke-width="1.1"/>
<text x="97" y="578.8" font-size="9.7" text-anchor="end" fill="#231f20" font-weight="normal">10000</text>
<line x1="120.9" y1="646.2" x2="120.9" y2="650.6" stroke="#231f20" stroke-width="1.1"/>
<line x1="142.3" y1="646.2" x2="142.3" y2="650.6" stroke="#231f20" stroke-width="1.1"/>
<line x1="164.2" y1="646.2" x2="164.2" y2="650.6" stroke="#231f20" stroke-width="1.1"/>
<line x1="185.5" y1="646.2" x2="185.5" y2="650.6" stroke="#231f20" stroke-width="1.1"/>
<line x1="207.3" y1="646.2" x2="207.3" y2="650.6" stroke="#231f20" stroke-width="1.1"/>
<line x1="228.6" y1="646.2" x2="228.6" y2="650.6" stroke="#231f20" stroke-width="1.1"/>
<text transform="translate(61,608.2) rotate(-90)" font-size="12.8" text-anchor="middle" fill="#231f20" textLength="29.3" lengthAdjust="spacingAndGlyphs">BU/ml</text>
<text transform="translate(123.4,657.4) rotate(-45)" font-size="10.2" text-anchor="end" fill="#231f20">FVIII 4w</text>
<text transform="translate(144.8,657.4) rotate(-45)" font-size="10.2" text-anchor="end" fill="#231f20">FVIII 6w</text>
<text transform="translate(166.7,657.4) rotate(-45)" font-size="10.2" text-anchor="end" fill="#231f20">FVIII 8w</text>
<text transform="translate(188,657.4) rotate(-45)" font-size="10.2" text-anchor="end" fill="#231f20">ODN+FVIII 4w</text>
<text transform="translate(209.8,657.4) rotate(-45)" font-size="10.2" text-anchor="end" fill="#231f20">ODN+FVIII 6w</text>
<text transform="translate(231.1,657.4) rotate(-45)" font-size="10.2" text-anchor="end" fill="#231f20">ODN+FVIII 8w</text>
<circle cx="120.9" cy="637.75" r="1.1" fill="#1c4a80"/>
<circle cx="115.01" cy="637.5" r="1.1" fill="#1c4a80"/>
<circle cx="126.79" cy="637.26" r="1.1" fill="#1c4a80"/>
<circle cx="113.9" cy="636.79" r="1.1" fill="#1c4a80"/>
<circle cx="117.96" cy="636.35" r="1.1" fill="#1c4a80"/>
<circle cx="123.84" cy="635.94" r="1.1" fill="#1c4a80"/>
<circle cx="127.9" cy="635.54" r="1.1" fill="#1c4a80"/>
<circle cx="113.9" cy="634.99" r="1.1" fill="#1c4a80"/>
<circle cx="120.9" cy="634.47" r="1.1" fill="#1c4a80"/>
<circle cx="113.9" cy="633.83" r="1.1" fill="#1c4a80"/>
<circle cx="117.96" cy="633.1" r="1.1" fill="#1c4a80"/>
<circle cx="123.84" cy="632.43" r="1.1" fill="#1c4a80"/>
<circle cx="120.9" cy="602.35" r="1.1" fill="#1c4a80"/>
<circle cx="115.01" cy="601.86" r="1.1" fill="#1c4a80"/>
<circle cx="123.84" cy="601.17" r="1.1" fill="#1c4a80"/>
<circle cx="117.96" cy="600.54" r="1.1" fill="#1c4a80"/>
<circle cx="126.79" cy="600.14" r="1.1" fill="#1c4a80"/>
<circle cx="113.9" cy="599.77" r="1.1" fill="#1c4a80"/>
<circle cx="120.9" cy="599.24" r="1.1" fill="#1c4a80"/>
<circle cx="127.9" cy="598.43" r="1.1" fill="#1c4a80"/>
<circle cx="123.84" cy="597.7" r="1.1" fill="#1c4a80"/>
<circle cx="117.96" cy="597.03" r="1.1" fill="#1c4a80"/>
<circle cx="113.9" cy="596.41" r="1.1" fill="#1c4a80"/>
<circle cx="120.9" cy="595.84" r="1.1" fill="#1c4a80"/>
<circle cx="126.79" cy="594.82" r="1.1" fill="#1c4a80"/>
<line x1="120.9" y1="595.84" x2="120.9" y2="637.26" stroke="#777" stroke-width="1"/>
<line x1="120.9" y1="595.84" x2="120.9" y2="595.84" stroke="#777" stroke-width="1"/>
<line x1="120.9" y1="637.26" x2="120.9" y2="637.26" stroke="#777" stroke-width="1"/>
<line x1="113.9" y1="621.46" x2="127.9" y2="621.46" stroke="#777" stroke-width="1"/>
<circle cx="142.3" cy="616.77" r="1.1" fill="#1c4a80"/>
<circle cx="139.97" cy="614.73" r="1.1" fill="#1c4a80"/>
<circle cx="142.3" cy="613.01" r="1.1" fill="#1c4a80"/>
<circle cx="139.97" cy="611.61" r="1.1" fill="#1c4a80"/>
<circle cx="144.63" cy="610.8" r="1.1" fill="#1c4a80"/>
<circle cx="142.3" cy="610.07" r="1.1" fill="#1c4a80"/>
<circle cx="139.97" cy="608.78" r="1.1" fill="#1c4a80"/>
<circle cx="142.3" cy="607.19" r="1.1" fill="#1c4a80"/>
<circle cx="139.97" cy="605.47" r="1.1" fill="#1c4a80"/>
<circle cx="142.3" cy="602.89" r="1.1" fill="#1c4a80"/>
<line x1="142.3" y1="605.47" x2="142.3" y2="615.4" stroke="#3a3a3a" stroke-width="1"/>
<line x1="139.3" y1="605.47" x2="145.3" y2="605.47" stroke="#3a3a3a" stroke-width="1"/>
<line x1="139.3" y1="615.4" x2="145.3" y2="615.4" stroke="#3a3a3a" stroke-width="1"/>
<line x1="136.3" y1="610.8" x2="148.3" y2="610.8" stroke="#3a3a3a" stroke-width="1"/>
<circle cx="164.2" cy="605.47" r="1.1" fill="#1c4a80"/>
<circle cx="161.87" cy="603.76" r="1.1" fill="#1c4a80"/>
<circle cx="164.2" cy="602.35" r="1.1" fill="#1c4a80"/>
<circle cx="161.87" cy="601.17" r="1.1" fill="#1c4a80"/>
<circle cx="166.53" cy="600.14" r="1.1" fill="#1c4a80"/>
<circle cx="164.2" cy="598.43" r="1.1" fill="#1c4a80"/>
<circle cx="161.87" cy="597.7" r="1.1" fill="#1c4a80"/>
<circle cx="166.53" cy="597.03" r="1.1" fill="#1c4a80"/>
<circle cx="159.54" cy="596.41" r="1.1" fill="#1c4a80"/>
<circle cx="164.2" cy="595.84" r="1.1" fill="#1c4a80"/>
<circle cx="168.85" cy="595.31" r="1.1" fill="#1c4a80"/>
<circle cx="161.87" cy="594.82" r="1.1" fill="#1c4a80"/>
<circle cx="166.53" cy="593.91" r="1.1" fill="#1c4a80"/>
<circle cx="164.2" cy="593.1" r="1.1" fill="#1c4a80"/>
<circle cx="161.87" cy="591.7" r="1.1" fill="#1c4a80"/>
<circle cx="164.2" cy="589.98" r="1.1" fill="#1c4a80"/>
<circle cx="161.87" cy="588.58" r="1.1" fill="#1c4a80"/>
<circle cx="166.53" cy="587.77" r="1.1" fill="#1c4a80"/>
<line x1="164.2" y1="591.08" x2="164.2" y2="601.17" stroke="#3a3a3a" stroke-width="1"/>
<line x1="161.2" y1="591.08" x2="167.2" y2="591.08" stroke="#3a3a3a" stroke-width="1"/>
<line x1="161.2" y1="601.17" x2="167.2" y2="601.17" stroke="#3a3a3a" stroke-width="1"/>
<line x1="158.2" y1="595.84" x2="170.2" y2="595.84" stroke="#3a3a3a" stroke-width="1"/>
<circle cx="185.5" cy="608.78" r="1.1" fill="#b20f36"/>
<circle cx="183.17" cy="607.68" r="1.1" fill="#b20f36"/>
<circle cx="185.5" cy="605.47" r="1.1" fill="#b20f36"/>
<circle cx="185.5" cy="600.14" r="1.1" fill="#b20f36"/>
<circle cx="185.5" cy="594.82" r="1.1" fill="#b20f36"/>
<circle cx="185.5" cy="589.98" r="1.1" fill="#b20f36"/>
<circle cx="185.5" cy="586.06" r="1.1" fill="#b20f36"/>
<circle cx="185.5" cy="583.47" r="1.1" fill="#b20f36"/>
<line x1="185.5" y1="586.06" x2="185.5" y2="607.68" stroke="#3a3a3a" stroke-width="1"/>
<line x1="182.5" y1="586.06" x2="188.5" y2="586.06" stroke="#3a3a3a" stroke-width="1"/>
<line x1="182.5" y1="607.68" x2="188.5" y2="607.68" stroke="#3a3a3a" stroke-width="1"/>
<line x1="178.5" y1="598.43" x2="192.5" y2="598.43" stroke="#3a3a3a" stroke-width="1"/>
<circle cx="207.3" cy="593.91" r="1.1" fill="#b20f36"/>
<circle cx="204.97" cy="593.1" r="1.1" fill="#b20f36"/>
<circle cx="209.63" cy="592.37" r="1.1" fill="#b20f36"/>
<circle cx="202.65" cy="591.7" r="1.1" fill="#b20f36"/>
<circle cx="207.3" cy="591.08" r="1.1" fill="#b20f36"/>
<circle cx="211.96" cy="590.51" r="1.1" fill="#b20f36"/>
<circle cx="204.97" cy="589.98" r="1.1" fill="#b20f36"/>
<circle cx="209.63" cy="589.49" r="1.1" fill="#b20f36"/>
<circle cx="207.3" cy="588.58" r="1.1" fill="#b20f36"/>
<circle cx="202.65" cy="587.77" r="1.1" fill="#b20f36"/>
<circle cx="204.97" cy="587.04" r="1.1" fill="#b20f36"/>
<circle cx="207.3" cy="586.06" r="1.1" fill="#b20f36"/>
<line x1="207.3" y1="587.04" x2="207.3" y2="593.1" stroke="#3a3a3a" stroke-width="1"/>
<line x1="204.3" y1="587.04" x2="210.3" y2="587.04" stroke="#3a3a3a" stroke-width="1"/>
<line x1="204.3" y1="593.1" x2="210.3" y2="593.1" stroke="#3a3a3a" stroke-width="1"/>
<line x1="201.3" y1="589.98" x2="213.3" y2="589.98" stroke="#3a3a3a" stroke-width="1"/>
<circle cx="228.6" cy="598.43" r="1.1" fill="#b20f36"/>
<circle cx="226.27" cy="597.03" r="1.1" fill="#b20f36"/>
<circle cx="228.6" cy="594.82" r="1.1" fill="#b20f36"/>
<circle cx="226.27" cy="593.91" r="1.1" fill="#b20f36"/>
<circle cx="230.93" cy="593.1" r="1.1" fill="#b20f36"/>
<circle cx="228.6" cy="590.51" r="1.1" fill="#b20f36"/>
<line x1="228.6" y1="591.7" x2="228.6" y2="597.03" stroke="#3a3a3a" stroke-width="1"/>
<line x1="225.6" y1="591.7" x2="231.6" y2="591.7" stroke="#3a3a3a" stroke-width="1"/>
<line x1="225.6" y1="597.03" x2="231.6" y2="597.03" stroke="#3a3a3a" stroke-width="1"/>
<line x1="221.6" y1="594.35" x2="235.6" y2="594.35" stroke="#3a3a3a" stroke-width="1"/>
<text x="382.7" y="487" font-size="12.9" text-anchor="middle" fill="#231f20" font-weight="normal" textLength="118.4" lengthAdjust="spacingAndGlyphs">Total IgG1 anti-FVIII</text>
<text x="343.7" y="508.2" font-size="10.3" text-anchor="start" fill="#231f20" font-weight="normal" textLength="18.8" lengthAdjust="spacingAndGlyphs">FVIII</text>
<text x="377.3" y="508.2" font-size="10.3" text-anchor="start" fill="#bd1a45" font-weight="normal" textLength="72.7" lengthAdjust="spacingAndGlyphs">FVIII+ODN1826</text>
<polyline points="324,522.3 324,516.3 382.2,516.3 382.2,522.3" stroke="#141414" stroke-width="1.35" fill="none"/>
<polyline points="384.6,522.3 384.6,516.3 443.3,516.3 443.3,522.3" stroke="#141414" stroke-width="1.35" fill="none"/>
<polygon points="349.5,516.6 356.7,516.6 353.1,511.8" fill="#231f20"/>
<polygon points="410.35,516.6 417.55,516.6 413.95,511.8" fill="#231f20"/>
<polyline points="328.3,553.4 328.3,533.9 435.4,533.9 435.4,541.8" stroke="#141414" stroke-width="1.3" fill="none"/>
<text x="381.85" y="534.46" font-size="11" text-anchor="middle" fill="#3a3a3a" font-weight="normal">***</text>
<polyline points="349.3,554.3 349.3,545.4 435.4,545.4 435.4,579" stroke="#141414" stroke-width="1.3" fill="none"/>
<text x="392.35" y="545.96" font-size="11" text-anchor="middle" fill="#3a3a3a" font-weight="normal">**</text>
<polyline points="328.3,576.7 328.3,557 413.9,557 413.9,565.9" stroke="#141414" stroke-width="1.3" fill="none"/>
<text x="371.1" y="557.56" font-size="11" text-anchor="middle" fill="#3a3a3a" font-weight="normal">*</text>
<polyline points="370.5,577.9 370.5,569 435.4,569 435.4,579" stroke="#141414" stroke-width="1.3" fill="none"/>
<text x="402.95" y="569.56" font-size="11" text-anchor="middle" fill="#3a3a3a" font-weight="normal">*</text>
<polyline points="328.3,620 328.3,580.8 370.5,580.8 370.5,592.8" stroke="#141414" stroke-width="1.3" fill="none"/>
<text x="349.4" y="581.36" font-size="11" text-anchor="middle" fill="#3a3a3a" font-weight="normal">*</text>
<polyline points="392.6,596.6 392.6,580.8 435.4,580.8 435.4,588" stroke="#141414" stroke-width="1.3" fill="none"/>
<text x="414" y="581.36" font-size="11" text-anchor="middle" fill="#3a3a3a" font-weight="normal">**</text>
<line x1="313.8" y1="571.3" x2="313.8" y2="647.1" stroke="#231f20" stroke-width="1.7"/>
<line x1="313" y1="646.3" x2="450.2" y2="646.3" stroke="#231f20" stroke-width="1.7"/>
<line x1="309.4" y1="646.3" x2="313.8" y2="646.3" stroke="#231f20" stroke-width="1.1"/>
<text x="300.6" y="649.7" font-size="9.7" text-anchor="end" fill="#231f20" font-weight="normal">10</text>
<text x="300.9" y="645.1" font-size="6.5" text-anchor="start" fill="#231f20" font-weight="normal">2</text>
<line x1="309.4" y1="628.62" x2="313.8" y2="628.62" stroke="#231f20" stroke-width="1.1"/>
<text x="300.6" y="632.02" font-size="9.7" text-anchor="end" fill="#231f20" font-weight="normal">10</text>
<text x="300.9" y="627.42" font-size="6.5" text-anchor="start" fill="#231f20" font-weight="normal">3</text>
<line x1="309.4" y1="610.94" x2="313.8" y2="610.94" stroke="#231f20" stroke-width="1.1"/>
<text x="300.6" y="614.34" font-size="9.7" text-anchor="end" fill="#231f20" font-weight="normal">10</text>
<text x="300.9" y="609.74" font-size="6.5" text-anchor="start" fill="#231f20" font-weight="normal">4</text>
<line x1="309.4" y1="593.26" x2="313.8" y2="593.26" stroke="#231f20" stroke-width="1.1"/>
<text x="300.6" y="596.66" font-size="9.7" text-anchor="end" fill="#231f20" font-weight="normal">10</text>
<text x="300.9" y="592.06" font-size="6.5" text-anchor="start" fill="#231f20" font-weight="normal">5</text>
<line x1="309.4" y1="575.58" x2="313.8" y2="575.58" stroke="#231f20" stroke-width="1.1"/>
<text x="300.6" y="578.98" font-size="9.7" text-anchor="end" fill="#231f20" font-weight="normal">10</text>
<text x="300.9" y="574.38" font-size="6.5" text-anchor="start" fill="#231f20" font-weight="normal">6</text>
<line x1="328.3" y1="646.3" x2="328.3" y2="650.7" stroke="#231f20" stroke-width="1.1"/>
<line x1="349.3" y1="646.3" x2="349.3" y2="650.7" stroke="#231f20" stroke-width="1.1"/>
<line x1="370.5" y1="646.3" x2="370.5" y2="650.7" stroke="#231f20" stroke-width="1.1"/>
<line x1="392.6" y1="646.3" x2="392.6" y2="650.7" stroke="#231f20" stroke-width="1.1"/>
<line x1="413.9" y1="646.3" x2="413.9" y2="650.7" stroke="#231f20" stroke-width="1.1"/>
<line x1="435.4" y1="646.3" x2="435.4" y2="650.7" stroke="#231f20" stroke-width="1.1"/>
<text transform="translate(280.8,608.4) rotate(-90)" font-size="12.8" text-anchor="middle" fill="#231f20" textLength="26.8" lengthAdjust="spacingAndGlyphs">ng/ml</text>
<text transform="translate(330.8,657.8) rotate(-45)" font-size="10.2" text-anchor="end" fill="#231f20">FVIII 4w</text>
<text transform="translate(351.8,657.8) rotate(-45)" font-size="10.2" text-anchor="end" fill="#231f20">FVIII 6w</text>
<text transform="translate(373,657.8) rotate(-45)" font-size="10.2" text-anchor="end" fill="#231f20">FVIII 8w</text>
<text transform="translate(395.1,657.8) rotate(-45)" font-size="10.2" text-anchor="end" fill="#231f20">ODN+FVIII 4w</text>
<text transform="translate(416.4,657.8) rotate(-45)" font-size="10.2" text-anchor="end" fill="#231f20">ODN+FVIII 6w</text>
<text transform="translate(437.9,657.8) rotate(-45)" font-size="10.2" text-anchor="end" fill="#231f20">ODN+FVIII 8w</text>
<circle cx="328.3" cy="637.86" r="1.1" fill="#1c4a80"/>
<circle cx="322.79" cy="637.37" r="1.1" fill="#1c4a80"/>
<circle cx="331.06" cy="636.68" r="1.1" fill="#1c4a80"/>
<circle cx="334.8" cy="636.68" r="1.1" fill="#1c4a80"/>
<circle cx="325.55" cy="636.05" r="1.1" fill="#1c4a80"/>
<circle cx="321.8" cy="635.66" r="1.1" fill="#1c4a80"/>
<circle cx="321.8" cy="635.28" r="1.1" fill="#1c4a80"/>
<circle cx="328.3" cy="634.75" r="1.1" fill="#1c4a80"/>
<circle cx="334.8" cy="634.26" r="1.1" fill="#1c4a80"/>
<circle cx="321.8" cy="633.94" r="1.1" fill="#1c4a80"/>
<circle cx="328.3" cy="621.58" r="1.1" fill="#1c4a80"/>
<line x1="328.3" y1="633.94" x2="328.3" y2="637.37" stroke="#3a3a3a" stroke-width="1"/>
<line x1="325.3" y1="633.94" x2="331.3" y2="633.94" stroke="#3a3a3a" stroke-width="1"/>
<line x1="325.3" y1="637.37" x2="331.3" y2="637.37" stroke="#3a3a3a" stroke-width="1"/>
<line x1="322.3" y1="635.66" x2="334.3" y2="635.66" stroke="#3a3a3a" stroke-width="1"/>
<circle cx="349.3" cy="623.3" r="1.1" fill="#1c4a80"/>
<circle cx="349.3" cy="620.18" r="1.1" fill="#1c4a80"/>
<circle cx="346.55" cy="617.98" r="1.1" fill="#1c4a80"/>
<circle cx="349.3" cy="616.26" r="1.1" fill="#1c4a80"/>
<circle cx="346.55" cy="613.68" r="1.1" fill="#1c4a80"/>
<circle cx="349.3" cy="611.75" r="1.1" fill="#1c4a80"/>
<circle cx="352.06" cy="610.94" r="1.1" fill="#1c4a80"/>
<circle cx="346.55" cy="609.54" r="1.1" fill="#1c4a80"/>
<circle cx="349.3" cy="607.83" r="1.1" fill="#1c4a80"/>
<circle cx="349.3" cy="603.9" r="1.1" fill="#1c4a80"/>
<circle cx="349.3" cy="598.58" r="1.1" fill="#1c4a80"/>
<line x1="349.3" y1="605.62" x2="349.3" y2="617.98" stroke="#3a3a3a" stroke-width="1"/>
<line x1="346.3" y1="605.62" x2="352.3" y2="605.62" stroke="#3a3a3a" stroke-width="1"/>
<line x1="346.3" y1="617.98" x2="352.3" y2="617.98" stroke="#3a3a3a" stroke-width="1"/>
<line x1="343.3" y1="611.75" x2="355.3" y2="611.75" stroke="#3a3a3a" stroke-width="1"/>
<circle cx="370.5" cy="613.68" r="1.1" fill="#1c4a80"/>
<circle cx="367.75" cy="610.94" r="1.1" fill="#1c4a80"/>
<circle cx="370.5" cy="607.83" r="1.1" fill="#1c4a80"/>
<circle cx="367.75" cy="605.62" r="1.1" fill="#1c4a80"/>
<circle cx="370.5" cy="603.9" r="1.1" fill="#1c4a80"/>
<circle cx="367.75" cy="602.5" r="1.1" fill="#1c4a80"/>
<circle cx="373.25" cy="601.32" r="1.1" fill="#1c4a80"/>
<circle cx="370.5" cy="599.39" r="1.1" fill="#1c4a80"/>
<circle cx="367.75" cy="597.85" r="1.1" fill="#1c4a80"/>
<circle cx="370.5" cy="596" r="1.1" fill="#1c4a80"/>
<line x1="370.5" y1="597.18" x2="370.5" y2="607.83" stroke="#3a3a3a" stroke-width="1"/>
<line x1="367.5" y1="597.18" x2="373.5" y2="597.18" stroke="#3a3a3a" stroke-width="1"/>
<line x1="367.5" y1="607.83" x2="373.5" y2="607.83" stroke="#3a3a3a" stroke-width="1"/>
<line x1="364.5" y1="601.77" x2="376.5" y2="601.77" stroke="#3a3a3a" stroke-width="1"/>
<circle cx="392.6" cy="633.94" r="1.1" fill="#b20f36"/>
<circle cx="392.6" cy="630.33" r="1.1" fill="#b20f36"/>
<circle cx="392.6" cy="625.51" r="1.1" fill="#b20f36"/>
<circle cx="392.6" cy="620.18" r="1.1" fill="#b20f36"/>
<circle cx="392.6" cy="614.86" r="1.1" fill="#b20f36"/>
<circle cx="392.6" cy="610.94" r="1.1" fill="#b20f36"/>
<circle cx="392.6" cy="607.83" r="1.1" fill="#b20f36"/>
<circle cx="392.6" cy="603.9" r="1.1" fill="#b20f36"/>
<circle cx="392.6" cy="598.58" r="1.1" fill="#b20f36"/>
<line x1="392.6" y1="606.01" x2="392.6" y2="621.58" stroke="#3a3a3a" stroke-width="1"/>
<line x1="389.6" y1="606.01" x2="395.6" y2="606.01" stroke="#3a3a3a" stroke-width="1"/>
<line x1="389.6" y1="621.58" x2="395.6" y2="621.58" stroke="#3a3a3a" stroke-width="1"/>
<line x1="385.6" y1="610.94" x2="399.6" y2="610.94" stroke="#3a3a3a" stroke-width="1"/>
<circle cx="413.9" cy="611.75" r="1.1" fill="#b20f36"/>
<circle cx="411.14" cy="609.54" r="1.1" fill="#b20f36"/>
<circle cx="413.9" cy="607.83" r="1.1" fill="#b20f36"/>
<circle cx="411.14" cy="605.62" r="1.1" fill="#b20f36"/>
<circle cx="413.9" cy="603.9" r="1.1" fill="#b20f36"/>
<circle cx="416.65" cy="603.03" r="1.1" fill="#b20f36"/>
<circle cx="411.14" cy="602.5" r="1.1" fill="#b20f36"/>
<circle cx="408.39" cy="601.32" r="1.1" fill="#b20f36"/>
<circle cx="413.9" cy="600.3" r="1.1" fill="#b20f36"/>
<circle cx="411.14" cy="598.58" r="1.1" fill="#b20f36"/>
<circle cx="413.9" cy="596" r="1.1" fill="#b20f36"/>
<circle cx="413.9" cy="590.15" r="1.1" fill="#b20f36"/>
<line x1="413.9" y1="597.18" x2="413.9" y2="606.43" stroke="#3a3a3a" stroke-width="1"/>
<line x1="410.9" y1="597.18" x2="416.9" y2="597.18" stroke="#3a3a3a" stroke-width="1"/>
<line x1="410.9" y1="606.43" x2="416.9" y2="606.43" stroke="#3a3a3a" stroke-width="1"/>
<line x1="407.9" y1="601.77" x2="419.9" y2="601.77" stroke="#3a3a3a" stroke-width="1"/>
<circle cx="435.4" cy="616.26" r="1.1" fill="#b20f36"/>
<circle cx="435.4" cy="612.65" r="1.1" fill="#b20f36"/>
<circle cx="435.4" cy="609.54" r="1.1" fill="#b20f36"/>
<circle cx="435.4" cy="605.62" r="1.1" fill="#b20f36"/>
<circle cx="435.4" cy="602.5" r="1.1" fill="#b20f36"/>
<circle cx="432.64" cy="600.3" r="1.1" fill="#b20f36"/>
<circle cx="435.4" cy="598.58" r="1.1" fill="#b20f36"/>
<circle cx="432.64" cy="597.18" r="1.1" fill="#b20f36"/>
<circle cx="438.15" cy="596" r="1.1" fill="#b20f36"/>
<circle cx="435.4" cy="593.26" r="1.1" fill="#b20f36"/>
<circle cx="432.64" cy="591.25" r="1.1" fill="#b20f36"/>
<circle cx="435.4" cy="587.94" r="1.1" fill="#b20f36"/>
<line x1="435.4" y1="592.53" x2="435.4" y2="604.89" stroke="#3a3a3a" stroke-width="1"/>
<line x1="432.4" y1="592.53" x2="438.4" y2="592.53" stroke="#3a3a3a" stroke-width="1"/>
<line x1="432.4" y1="604.89" x2="438.4" y2="604.89" stroke="#3a3a3a" stroke-width="1"/>
<line x1="429.4" y1="598.58" x2="441.4" y2="598.58" stroke="#3a3a3a" stroke-width="1"/>
<text x="30.3" y="742.8" font-size="16.5" text-anchor="start" fill="#231f20" font-weight="bold">D</text>
<text x="172.3" y="743.6" font-size="12.9" text-anchor="middle" fill="#231f20" font-weight="normal" textLength="117.4" lengthAdjust="spacingAndGlyphs">Inhibitor titer vs Tfh</text>
<text x="172.3" y="758.2" font-size="12.9" text-anchor="middle" fill="#231f20" font-weight="normal" textLength="83.4" lengthAdjust="spacingAndGlyphs">cell frequency</text>
<line x1="90.2" y1="767.8" x2="90.2" y2="878.8" stroke="#231f20" stroke-width="1.7"/>
<line x1="89.4" y1="878" x2="254.2" y2="878" stroke="#231f20" stroke-width="1.7"/>
<line x1="85.8" y1="878" x2="90.2" y2="878" stroke="#231f20" stroke-width="1.1"/>
<text x="81.2" y="881.4" font-size="9.7" text-anchor="end" fill="#231f20" font-weight="normal">0</text>
<line x1="85.8" y1="851.55" x2="90.2" y2="851.55" stroke="#231f20" stroke-width="1.1"/>
<text x="81.2" y="854.95" font-size="9.7" text-anchor="end" fill="#231f20" font-weight="normal">500</text>
<line x1="85.8" y1="825.1" x2="90.2" y2="825.1" stroke="#231f20" stroke-width="1.1"/>
<text x="81.2" y="828.5" font-size="9.7" text-anchor="end" fill="#231f20" font-weight="normal">1000</text>
<line x1="85.8" y1="798.65" x2="90.2" y2="798.65" stroke="#231f20" stroke-width="1.1"/>
<text x="81.2" y="802.05" font-size="9.7" text-anchor="end" fill="#231f20" font-weight="normal">1500</text>
<line x1="85.8" y1="772.2" x2="90.2" y2="772.2" stroke="#231f20" stroke-width="1.1"/>
<text x="81.2" y="775.6" font-size="9.7" text-anchor="end" fill="#231f20" font-weight="normal">2000</text>
<line x1="90.2" y1="878" x2="90.2" y2="882.2" stroke="#231f20" stroke-width="1.1"/>
<text x="90.5" y="896.2" font-size="9.7" text-anchor="middle" fill="#231f20" font-weight="normal">0</text>
<line x1="143.3" y1="878" x2="143.3" y2="882.2" stroke="#231f20" stroke-width="1.1"/>
<text x="143.6" y="896.2" font-size="9.7" text-anchor="middle" fill="#231f20" font-weight="normal">2</text>
<line x1="196.4" y1="878" x2="196.4" y2="882.2" stroke="#231f20" stroke-width="1.1"/>
<text x="196.7" y="896.2" font-size="9.7" text-anchor="middle" fill="#231f20" font-weight="normal">4</text>
<line x1="249.5" y1="878" x2="249.5" y2="882.2" stroke="#231f20" stroke-width="1.1"/>
<text x="249.8" y="896.2" font-size="9.7" text-anchor="middle" fill="#231f20" font-weight="normal">6</text>
<text transform="translate(50.3,822.9) rotate(-90)" font-size="12.8" text-anchor="middle" fill="#231f20" textLength="28" lengthAdjust="spacingAndGlyphs">BU/ml</text>
<text x="133.1" y="914.8" font-size="11.8" text-anchor="start" fill="#231f20" font-weight="normal" textLength="79.4" lengthAdjust="spacingAndGlyphs">Bcl6+/CD4+ (%)</text>
<text x="174.4" y="791.2" font-size="10.3" text-anchor="start" fill="#231f20" font-weight="normal" textLength="30.8" lengthAdjust="spacingAndGlyphs"><tspan font-style="italic">P</tspan> &lt; .01</text>
<polyline points="94,854.04 98.49,853.16 102.99,852.24 107.48,851.24 111.97,850.17 116.47,848.99 120.96,847.69 125.45,846.23 129.95,844.61 134.44,842.82 138.93,840.86 143.43,838.74 147.92,836.5 152.41,834.16 156.91,831.73 161.4,829.24 165.89,826.7 170.39,824.11 174.88,821.5 179.37,818.86 183.87,816.2 188.36,813.52 192.85,810.82 197.35,808.12 201.84,805.4 206.33,802.68 210.83,799.95 215.32,797.21 219.81,794.47 224.31,791.73 228.8,788.98" stroke="#6e6e6e" stroke-width="1.25" fill="none" stroke-dasharray="1.4 0.5"/>
<polyline points="94,875.96 98.49,873.42 102.99,870.92 107.48,868.5 111.97,866.15 116.47,863.91 120.96,861.79 125.45,859.83 129.95,858.03 134.44,856.4 138.93,854.94 143.43,853.64 147.92,852.46 152.41,851.38 156.91,850.39 161.4,849.46 165.89,848.58 170.39,847.75 174.88,846.94 179.37,846.16 183.87,845.4 188.36,844.66 192.85,843.94 197.35,843.22 201.84,842.52 206.33,841.82 210.83,841.13 215.32,840.45 219.81,839.77 224.31,839.09 228.8,838.42" stroke="#6e6e6e" stroke-width="1.25" fill="none" stroke-dasharray="1.4 0.5"/>
<line x1="94.3" y1="865" x2="228.8" y2="813.7" stroke="#111" stroke-width="1.35"/>
<circle cx="149.6" cy="784.2" r="2.15" fill="#b20f36"/>
<circle cx="133.7" cy="798.5" r="2.15" fill="#b20f36"/>
<circle cx="138.3" cy="801.7" r="2.15" fill="#b20f36"/>
<circle cx="115.9" cy="825.2" r="2.15" fill="#b20f36"/>
<circle cx="100.8" cy="838.1" r="2.15" fill="#b20f36"/>
<circle cx="119.8" cy="843.1" r="2.15" fill="#b20f36"/>
<circle cx="130.6" cy="839.6" r="2.15" fill="#b20f36"/>
<circle cx="127.1" cy="844.8" r="2.15" fill="#b20f36"/>
<circle cx="140.2" cy="840" r="2.15" fill="#b20f36"/>
<circle cx="142.5" cy="841.5" r="2.15" fill="#b20f36"/>
<circle cx="156.3" cy="843.8" r="2.15" fill="#b20f36"/>
<circle cx="170.4" cy="849.2" r="2.15" fill="#b20f36"/>
<circle cx="128.5" cy="852.7" r="2.15" fill="#b20f36"/>
<circle cx="108.3" cy="859.4" r="2.15" fill="#b20f36"/>
<circle cx="110.8" cy="857.9" r="2.15" fill="#b20f36"/>
<circle cx="114.2" cy="855.6" r="2.15" fill="#b20f36"/>
<circle cx="116" cy="860.8" r="2.15" fill="#b20f36"/>
<circle cx="121.7" cy="866.9" r="2.15" fill="#b20f36"/>
<circle cx="109.2" cy="872.9" r="2.15" fill="#b20f36"/>
<circle cx="95" cy="876.2" r="2.15" fill="#b20f36"/>
<circle cx="96.9" cy="875.8" r="2.15" fill="#b20f36"/>
<circle cx="93.8" cy="877.7" r="2.15" fill="#b20f36"/>
<circle cx="109.2" cy="877.7" r="2.15" fill="#b20f36"/>
<circle cx="113.7" cy="876.2" r="2.15" fill="#b20f36"/>
<circle cx="114.2" cy="877.7" r="2.15" fill="#b20f36"/>
<circle cx="118.5" cy="877.7" r="2.15" fill="#b20f36"/>
<circle cx="123.3" cy="877.7" r="2.15" fill="#b20f36"/>
<circle cx="124.6" cy="877.7" r="2.15" fill="#b20f36"/>
<circle cx="135.2" cy="877.7" r="2.15" fill="#b20f36"/>
<circle cx="226.9" cy="802.1" r="2.15" fill="#b20f36"/>
<circle cx="228.8" cy="831.5" r="2.15" fill="#b20f36"/>
<circle cx="218.3" cy="843.7" r="2.15" fill="#b20f36"/>
<text x="412.2" y="743.7" font-size="12.9" text-anchor="middle" fill="#231f20" font-weight="normal" textLength="129.8" lengthAdjust="spacingAndGlyphs">Inhibitor titer vs GC B</text>
<text x="412.3" y="758.2" font-size="12.9" text-anchor="middle" fill="#231f20" font-weight="normal" textLength="82.5" lengthAdjust="spacingAndGlyphs">cell frequency</text>
<line x1="329.8" y1="768.5" x2="329.8" y2="878.8" stroke="#231f20" stroke-width="1.7"/>
<line x1="329" y1="878" x2="494" y2="878" stroke="#231f20" stroke-width="1.7"/>
<line x1="325.4" y1="878" x2="329.8" y2="878" stroke="#231f20" stroke-width="1.1"/>
<text x="320.6" y="881.4" font-size="9.7" text-anchor="end" fill="#231f20" font-weight="normal">0</text>
<line x1="325.4" y1="851.55" x2="329.8" y2="851.55" stroke="#231f20" stroke-width="1.1"/>
<text x="320.6" y="854.95" font-size="9.7" text-anchor="end" fill="#231f20" font-weight="normal">500</text>
<line x1="325.4" y1="825.1" x2="329.8" y2="825.1" stroke="#231f20" stroke-width="1.1"/>
<text x="320.6" y="828.5" font-size="9.7" text-anchor="end" fill="#231f20" font-weight="normal">1000</text>
<line x1="325.4" y1="798.65" x2="329.8" y2="798.65" stroke="#231f20" stroke-width="1.1"/>
<text x="320.6" y="802.05" font-size="9.7" text-anchor="end" fill="#231f20" font-weight="normal">1500</text>
<line x1="325.4" y1="772.2" x2="329.8" y2="772.2" stroke="#231f20" stroke-width="1.1"/>
<text x="320.6" y="775.6" font-size="9.7" text-anchor="end" fill="#231f20" font-weight="normal">2000</text>
<line x1="329.8" y1="878" x2="329.8" y2="882.2" stroke="#231f20" stroke-width="1.1"/>
<text x="329.4" y="896.6" font-size="9.7" text-anchor="middle" fill="#231f20" font-weight="normal">0</text>
<line x1="361.85" y1="878" x2="361.85" y2="882.2" stroke="#231f20" stroke-width="1.1"/>
<text x="361.45" y="896.6" font-size="9.7" text-anchor="middle" fill="#231f20" font-weight="normal">1</text>
<line x1="393.9" y1="878" x2="393.9" y2="882.2" stroke="#231f20" stroke-width="1.1"/>
<text x="393.5" y="896.6" font-size="9.7" text-anchor="middle" fill="#231f20" font-weight="normal">2</text>
<line x1="425.95" y1="878" x2="425.95" y2="882.2" stroke="#231f20" stroke-width="1.1"/>
<text x="425.55" y="896.6" font-size="9.7" text-anchor="middle" fill="#231f20" font-weight="normal">3</text>
<line x1="458" y1="878" x2="458" y2="882.2" stroke="#231f20" stroke-width="1.1"/>
<text x="457.6" y="896.6" font-size="9.7" text-anchor="middle" fill="#231f20" font-weight="normal">4</text>
<line x1="490.05" y1="878" x2="490.05" y2="882.2" stroke="#231f20" stroke-width="1.1"/>
<text x="489.65" y="896.6" font-size="9.7" text-anchor="middle" fill="#231f20" font-weight="normal">5</text>
<text transform="translate(289.8,822.8) rotate(-90)" font-size="12.8" text-anchor="middle" fill="#231f20" textLength="28.2" lengthAdjust="spacingAndGlyphs">BU/ml</text>
<text x="373.6" y="920" font-size="11.8" text-anchor="start" fill="#231f20" font-weight="normal" textLength="78.4" lengthAdjust="spacingAndGlyphs">GL7<tspan dy="-4.5" font-size="8.5">+</tspan><tspan dy="4.5">/CD19</tspan><tspan dy="-4.5" font-size="8.5">+</tspan><tspan dy="4.5"> (%)</tspan></text>
<text x="413.7" y="791.2" font-size="10.3" text-anchor="start" fill="#231f20" font-weight="normal" textLength="30.7" lengthAdjust="spacingAndGlyphs"><tspan font-style="italic">P</tspan> &lt; .01</text>
<polyline points="335.5,853.61 339.84,852.82 344.17,852 348.51,851.14 352.85,850.25 357.18,849.3 361.52,848.3 365.86,847.23 370.19,846.08 374.53,844.82 378.87,843.46 383.2,841.98 387.54,840.37 391.88,838.64 396.21,836.79 400.55,834.83 404.89,832.78 409.22,830.64 413.56,828.44 417.9,826.18 422.23,823.87 426.57,821.53 430.91,819.15 435.24,816.75 439.58,814.32 443.92,811.88 448.25,809.41 452.59,806.94 456.93,804.45 461.26,801.96 465.6,799.45" stroke="#6e6e6e" stroke-width="1.25" fill="none" stroke-dasharray="1.4 0.5"/>
<polyline points="340,878.49 344.19,876.2 348.37,873.94 352.56,871.72 356.75,869.55 360.93,867.42 365.12,865.36 369.31,863.38 373.49,861.48 377.68,859.69 381.87,858 386.05,856.43 390.24,854.98 394.43,853.64 398.61,852.4 402.8,851.26 406.99,850.2 411.17,849.21 415.36,848.28 419.55,847.4 423.73,846.56 427.92,845.75 432.11,844.97 436.29,844.22 440.48,843.48 444.67,842.76 448.85,842.06 453.04,841.37 457.23,840.68 461.41,840.01 465.6,839.35" stroke="#6e6e6e" stroke-width="1.25" fill="none" stroke-dasharray="1.4 0.5"/>
<line x1="336.1" y1="867.3" x2="465.6" y2="819.4" stroke="#111" stroke-width="1.35"/>
<circle cx="374.6" cy="783.7" r="2.15" fill="#b20f36"/>
<circle cx="349.2" cy="825.6" r="2.15" fill="#b20f36"/>
<circle cx="350.7" cy="844.6" r="2.15" fill="#b20f36"/>
<circle cx="361.9" cy="843.1" r="2.15" fill="#b20f36"/>
<circle cx="367.8" cy="840" r="2.15" fill="#b20f36"/>
<circle cx="372.5" cy="840" r="2.15" fill="#b20f36"/>
<circle cx="384.1" cy="842.1" r="2.15" fill="#b20f36"/>
<circle cx="388.4" cy="844.2" r="2.15" fill="#b20f36"/>
<circle cx="396.8" cy="840.6" r="2.15" fill="#b20f36"/>
<circle cx="399.6" cy="843.6" r="2.15" fill="#b20f36"/>
<circle cx="366.6" cy="853.1" r="2.15" fill="#b20f36"/>
<circle cx="387.3" cy="855.8" r="2.15" fill="#b20f36"/>
<circle cx="393.7" cy="857.7" r="2.15" fill="#b20f36"/>
<circle cx="340.8" cy="859" r="2.15" fill="#b20f36"/>
<circle cx="397.5" cy="867.3" r="2.15" fill="#b20f36"/>
<circle cx="375.3" cy="873.2" r="2.15" fill="#b20f36"/>
<circle cx="335.5" cy="875.9" r="2.15" fill="#b20f36"/>
<circle cx="342.5" cy="877.8" r="2.15" fill="#b20f36"/>
<circle cx="346.1" cy="877.8" r="2.15" fill="#b20f36"/>
<circle cx="348.8" cy="876.8" r="2.15" fill="#b20f36"/>
<circle cx="351.3" cy="877.8" r="2.15" fill="#b20f36"/>
<circle cx="355.6" cy="876.4" r="2.15" fill="#b20f36"/>
<circle cx="357.3" cy="877.8" r="2.15" fill="#b20f36"/>
<circle cx="414.6" cy="801.7" r="2.15" fill="#b20f36"/>
<circle cx="416.9" cy="801.3" r="2.15" fill="#b20f36"/>
<circle cx="418.8" cy="801.2" r="2.15" fill="#b20f36"/>
<circle cx="454.6" cy="798.3" r="2.15" fill="#b20f36"/>
<circle cx="429" cy="831.5" r="2.15" fill="#b20f36"/>
<circle cx="440.2" cy="837.9" r="2.15" fill="#b20f36"/>
<circle cx="451.5" cy="849.2" r="2.15" fill="#b20f36"/>
<circle cx="466" cy="861" r="2.15" fill="#b20f36"/>
<text x="161.8" y="959.6" font-size="16" text-anchor="start" fill="#231f20" font-weight="bold">E</text>
<line x1="228.2" y1="946.2" x2="228.2" y2="1056.4" stroke="#231f20" stroke-width="1.7"/>
<line x1="227.4" y1="1055.6" x2="351" y2="1055.6" stroke="#231f20" stroke-width="1.7"/>
<line x1="223.8" y1="1055.6" x2="228.2" y2="1055.6" stroke="#231f20" stroke-width="1.1"/>
<text x="218.8" y="1059" font-size="9.7" text-anchor="end" fill="#231f20" font-weight="normal">1</text>
<line x1="223.8" y1="1002.5" x2="228.2" y2="1002.5" stroke="#231f20" stroke-width="1.1"/>
<text x="218.8" y="1005.9" font-size="9.7" text-anchor="end" fill="#231f20" font-weight="normal">10</text>
<line x1="223.8" y1="949.4" x2="228.2" y2="949.4" stroke="#231f20" stroke-width="1.1"/>
<text x="218.8" y="952.8" font-size="9.7" text-anchor="end" fill="#231f20" font-weight="normal">100</text>
<line x1="262.5" y1="1055.6" x2="262.5" y2="1060" stroke="#231f20" stroke-width="1.1"/>
<line x1="320.8" y1="1055.6" x2="320.8" y2="1060" stroke="#231f20" stroke-width="1.1"/>
<text transform="translate(194,1000.5) rotate(-90)" font-size="12.8" text-anchor="middle" fill="#231f20" textLength="29.1" lengthAdjust="spacingAndGlyphs">BU/ml</text>
<text x="262" y="1074.6" font-size="10.5" text-anchor="middle" fill="#231f20" font-weight="normal" textLength="40.7" lengthAdjust="spacingAndGlyphs">FVIII only</text>
<text x="320.8" y="1074.2" font-size="10.5" text-anchor="middle" fill="#231f20" font-weight="normal" textLength="49.2" lengthAdjust="spacingAndGlyphs">ODN+FVIII</text>
<text x="320.6" y="1086.2" font-size="10.5" text-anchor="middle" fill="#231f20" font-weight="normal" textLength="38.2" lengthAdjust="spacingAndGlyphs">next day</text>
<line x1="262.5" y1="995.3" x2="262.5" y2="1012.9" stroke="#222" stroke-width="1.5"/>
<line x1="255.4" y1="995.3" x2="269.8" y2="995.3" stroke="#222" stroke-width="1.5"/>
<line x1="247.6" y1="1012.9" x2="277.8" y2="1012.9" stroke="#222" stroke-width="1.5"/>
<circle cx="262.7" cy="989.3" r="2.3" fill="#b20f36"/>
<circle cx="262.5" cy="1007.6" r="2.3" fill="#b20f36"/>
<circle cx="258.5" cy="1030.4" r="2.3" fill="#b20f36"/>
<circle cx="267.4" cy="1030.4" r="2.3" fill="#b20f36"/>
<line x1="306.2" y1="1027.7" x2="335.4" y2="1027.7" stroke="#222" stroke-width="1.5"/>
<circle cx="311.6" cy="1025.8" r="2.2" fill="#b20f36"/>
<circle cx="311.6" cy="1030" r="2.2" fill="#b20f36"/>
<circle cx="316" cy="1027.6" r="2.2" fill="#b20f36"/>
<circle cx="320.4" cy="1027.2" r="2.2" fill="#b20f36"/>
<circle cx="324.8" cy="1027.9" r="2.2" fill="#b20f36"/>
<circle cx="329.4" cy="1028" r="2.2" fill="#b20f36"/>
<line x1="313.5" y1="1026.1" x2="327.5" y2="1026.1" stroke="#333" stroke-width="0.9"/>
<line x1="313.5" y1="1029.5" x2="327.5" y2="1029.5" stroke="#333" stroke-width="0.9"/>
<line x1="306.2" y1="1027.7" x2="335.4" y2="1027.7" stroke="#222" stroke-width="1"/>
<path d="M0.6,0 V1099 M0,0.55 H520 M519.3,0 V1099 M0,1098.3 H520" fill="none" stroke="#1a1a1a" stroke-width="1.2"/>
</svg>
</body></html>
